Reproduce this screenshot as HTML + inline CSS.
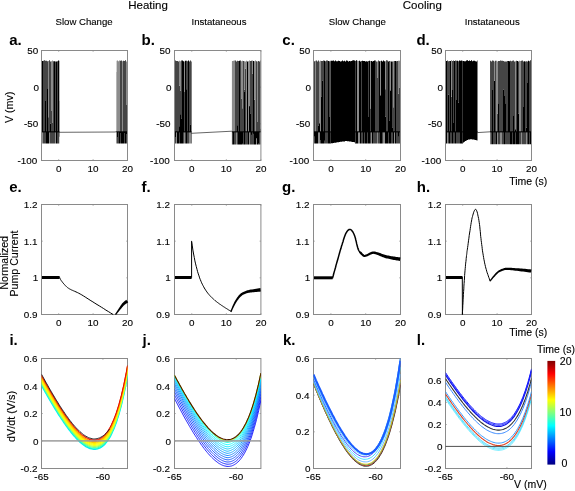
<!DOCTYPE html>
<html><head><meta charset="utf-8"><style>
html,body{margin:0;padding:0;background:#fff;width:575px;height:491px;overflow:hidden}
svg{display:block;will-change:transform}
text{font-family:"Liberation Sans",sans-serif;stroke:#000;stroke-width:0.12px}
</style></head><body>
<svg width="575" height="491" viewBox="0 0 575 491">
<rect width="575" height="491" fill="#fff"/>
<text x="148.10" y="8.80" font-size="11.5" text-anchor="middle" font-weight="normal" fill="#000" >Heating</text>
<text x="422.30" y="8.80" font-size="11.5" text-anchor="middle" font-weight="normal" fill="#000" >Cooling</text>
<text x="84.10" y="25.40" font-size="9.6" text-anchor="middle" font-weight="normal" fill="#000" >Slow Change</text>
<text x="219.00" y="25.40" font-size="9.6" text-anchor="middle" font-weight="normal" fill="#000" >Instataneous</text>
<text x="357.30" y="25.40" font-size="9.6" text-anchor="middle" font-weight="normal" fill="#000" >Slow Change</text>
<text x="492.30" y="25.40" font-size="9.6" text-anchor="middle" font-weight="normal" fill="#000" >Instataneous</text>
<text x="9.20" y="45.00" font-size="15" text-anchor="start" font-weight="bold" fill="#000"  style="stroke:none">a.</text>
<text x="141.60" y="45.00" font-size="15" text-anchor="start" font-weight="bold" fill="#000"  style="stroke:none">b.</text>
<text x="282.30" y="45.00" font-size="15" text-anchor="start" font-weight="bold" fill="#000"  style="stroke:none">c.</text>
<text x="416.40" y="45.00" font-size="15" text-anchor="start" font-weight="bold" fill="#000"  style="stroke:none">d.</text>
<text x="9.20" y="192.40" font-size="15" text-anchor="start" font-weight="bold" fill="#000"  style="stroke:none">e.</text>
<text x="141.40" y="192.40" font-size="15" text-anchor="start" font-weight="bold" fill="#000"  style="stroke:none">f.</text>
<text x="282.00" y="192.40" font-size="15" text-anchor="start" font-weight="bold" fill="#000"  style="stroke:none">g.</text>
<text x="416.80" y="192.40" font-size="15" text-anchor="start" font-weight="bold" fill="#000"  style="stroke:none">h.</text>
<text x="9.40" y="344.60" font-size="15" text-anchor="start" font-weight="bold" fill="#000"  style="stroke:none">i.</text>
<text x="142.50" y="344.60" font-size="15" text-anchor="start" font-weight="bold" fill="#000"  style="stroke:none">j.</text>
<text x="283.00" y="344.60" font-size="15" text-anchor="start" font-weight="bold" fill="#000"  style="stroke:none">k.</text>
<text x="416.80" y="344.60" font-size="15" text-anchor="start" font-weight="bold" fill="#000"  style="stroke:none">l.</text>
<rect x="41.5" y="50.5" width="86.00" height="110.0" fill="none" stroke="#8a8a8a" stroke-width="1"/>
<line x1="58.70" y1="160.5" x2="58.70" y2="159.2" stroke="#8a8a8a" stroke-width="0.7"/>
<line x1="58.70" y1="50.5" x2="58.70" y2="51.8" stroke="#8a8a8a" stroke-width="0.7"/>
<line x1="93.10" y1="160.5" x2="93.10" y2="159.2" stroke="#8a8a8a" stroke-width="0.7"/>
<line x1="93.10" y1="50.5" x2="93.10" y2="51.8" stroke="#8a8a8a" stroke-width="0.7"/>
<line x1="127.50" y1="160.5" x2="127.50" y2="159.2" stroke="#8a8a8a" stroke-width="0.7"/>
<line x1="127.50" y1="50.5" x2="127.50" y2="51.8" stroke="#8a8a8a" stroke-width="0.7"/>
<line x1="41.5" y1="50.50" x2="42.8" y2="50.50" stroke="#8a8a8a" stroke-width="0.7"/>
<line x1="127.5" y1="50.50" x2="126.2" y2="50.50" stroke="#8a8a8a" stroke-width="0.7"/>
<line x1="41.5" y1="87.17" x2="42.8" y2="87.17" stroke="#8a8a8a" stroke-width="0.7"/>
<line x1="127.5" y1="87.17" x2="126.2" y2="87.17" stroke="#8a8a8a" stroke-width="0.7"/>
<line x1="41.5" y1="123.83" x2="42.8" y2="123.83" stroke="#8a8a8a" stroke-width="0.7"/>
<line x1="127.5" y1="123.83" x2="126.2" y2="123.83" stroke="#8a8a8a" stroke-width="0.7"/>
<line x1="41.5" y1="160.50" x2="42.8" y2="160.50" stroke="#8a8a8a" stroke-width="0.7"/>
<line x1="127.5" y1="160.50" x2="126.2" y2="160.50" stroke="#8a8a8a" stroke-width="0.7"/>
<text x="58.70" y="172.30" font-size="9.9" text-anchor="middle" font-weight="normal" fill="#000" >0</text>
<text x="93.10" y="172.30" font-size="9.9" text-anchor="middle" font-weight="normal" fill="#000" >10</text>
<text x="127.50" y="172.30" font-size="9.9" text-anchor="middle" font-weight="normal" fill="#000" >20</text>
<text x="38.20" y="54.00" font-size="9.9" text-anchor="end" font-weight="normal" fill="#000" >50</text>
<text x="39.00" y="90.67" font-size="9.9" text-anchor="end" font-weight="normal" fill="#000" >0</text>
<text x="38.20" y="127.33" font-size="9.9" text-anchor="end" font-weight="normal" fill="#000" >-50</text>
<text x="37.30" y="164.00" font-size="9.9" text-anchor="end" font-weight="normal" fill="#000" >-100</text>
<rect x="174.5" y="50.5" width="86.40" height="110.0" fill="none" stroke="#8a8a8a" stroke-width="1"/>
<line x1="191.78" y1="160.5" x2="191.78" y2="159.2" stroke="#8a8a8a" stroke-width="0.7"/>
<line x1="191.78" y1="50.5" x2="191.78" y2="51.8" stroke="#8a8a8a" stroke-width="0.7"/>
<line x1="226.34" y1="160.5" x2="226.34" y2="159.2" stroke="#8a8a8a" stroke-width="0.7"/>
<line x1="226.34" y1="50.5" x2="226.34" y2="51.8" stroke="#8a8a8a" stroke-width="0.7"/>
<line x1="260.90" y1="160.5" x2="260.90" y2="159.2" stroke="#8a8a8a" stroke-width="0.7"/>
<line x1="260.90" y1="50.5" x2="260.90" y2="51.8" stroke="#8a8a8a" stroke-width="0.7"/>
<line x1="174.5" y1="50.50" x2="175.8" y2="50.50" stroke="#8a8a8a" stroke-width="0.7"/>
<line x1="260.9" y1="50.50" x2="259.59999999999997" y2="50.50" stroke="#8a8a8a" stroke-width="0.7"/>
<line x1="174.5" y1="87.17" x2="175.8" y2="87.17" stroke="#8a8a8a" stroke-width="0.7"/>
<line x1="260.9" y1="87.17" x2="259.59999999999997" y2="87.17" stroke="#8a8a8a" stroke-width="0.7"/>
<line x1="174.5" y1="123.83" x2="175.8" y2="123.83" stroke="#8a8a8a" stroke-width="0.7"/>
<line x1="260.9" y1="123.83" x2="259.59999999999997" y2="123.83" stroke="#8a8a8a" stroke-width="0.7"/>
<line x1="174.5" y1="160.50" x2="175.8" y2="160.50" stroke="#8a8a8a" stroke-width="0.7"/>
<line x1="260.9" y1="160.50" x2="259.59999999999997" y2="160.50" stroke="#8a8a8a" stroke-width="0.7"/>
<text x="191.78" y="172.30" font-size="9.9" text-anchor="middle" font-weight="normal" fill="#000" >0</text>
<text x="226.34" y="172.30" font-size="9.9" text-anchor="middle" font-weight="normal" fill="#000" >10</text>
<text x="260.90" y="172.30" font-size="9.9" text-anchor="middle" font-weight="normal" fill="#000" >20</text>
<text x="170.60" y="54.00" font-size="9.9" text-anchor="end" font-weight="normal" fill="#000" >50</text>
<text x="171.40" y="90.67" font-size="9.9" text-anchor="end" font-weight="normal" fill="#000" >0</text>
<text x="170.60" y="127.33" font-size="9.9" text-anchor="end" font-weight="normal" fill="#000" >-50</text>
<text x="169.70" y="164.00" font-size="9.9" text-anchor="end" font-weight="normal" fill="#000" >-100</text>
<rect x="313.5" y="50.5" width="87.00" height="110.0" fill="none" stroke="#8a8a8a" stroke-width="1"/>
<line x1="330.90" y1="160.5" x2="330.90" y2="159.2" stroke="#8a8a8a" stroke-width="0.7"/>
<line x1="330.90" y1="50.5" x2="330.90" y2="51.8" stroke="#8a8a8a" stroke-width="0.7"/>
<line x1="365.70" y1="160.5" x2="365.70" y2="159.2" stroke="#8a8a8a" stroke-width="0.7"/>
<line x1="365.70" y1="50.5" x2="365.70" y2="51.8" stroke="#8a8a8a" stroke-width="0.7"/>
<line x1="400.50" y1="160.5" x2="400.50" y2="159.2" stroke="#8a8a8a" stroke-width="0.7"/>
<line x1="400.50" y1="50.5" x2="400.50" y2="51.8" stroke="#8a8a8a" stroke-width="0.7"/>
<line x1="313.5" y1="50.50" x2="314.8" y2="50.50" stroke="#8a8a8a" stroke-width="0.7"/>
<line x1="400.5" y1="50.50" x2="399.2" y2="50.50" stroke="#8a8a8a" stroke-width="0.7"/>
<line x1="313.5" y1="87.17" x2="314.8" y2="87.17" stroke="#8a8a8a" stroke-width="0.7"/>
<line x1="400.5" y1="87.17" x2="399.2" y2="87.17" stroke="#8a8a8a" stroke-width="0.7"/>
<line x1="313.5" y1="123.83" x2="314.8" y2="123.83" stroke="#8a8a8a" stroke-width="0.7"/>
<line x1="400.5" y1="123.83" x2="399.2" y2="123.83" stroke="#8a8a8a" stroke-width="0.7"/>
<line x1="313.5" y1="160.50" x2="314.8" y2="160.50" stroke="#8a8a8a" stroke-width="0.7"/>
<line x1="400.5" y1="160.50" x2="399.2" y2="160.50" stroke="#8a8a8a" stroke-width="0.7"/>
<text x="330.90" y="172.30" font-size="9.9" text-anchor="middle" font-weight="normal" fill="#000" >0</text>
<text x="365.70" y="172.30" font-size="9.9" text-anchor="middle" font-weight="normal" fill="#000" >10</text>
<text x="400.50" y="172.30" font-size="9.9" text-anchor="middle" font-weight="normal" fill="#000" >20</text>
<text x="310.20" y="54.00" font-size="9.9" text-anchor="end" font-weight="normal" fill="#000" >50</text>
<text x="311.00" y="90.67" font-size="9.9" text-anchor="end" font-weight="normal" fill="#000" >0</text>
<text x="310.20" y="127.33" font-size="9.9" text-anchor="end" font-weight="normal" fill="#000" >-50</text>
<text x="309.30" y="164.00" font-size="9.9" text-anchor="end" font-weight="normal" fill="#000" >-100</text>
<rect x="445.5" y="50.5" width="86.00" height="110.0" fill="none" stroke="#8a8a8a" stroke-width="1"/>
<line x1="462.70" y1="160.5" x2="462.70" y2="159.2" stroke="#8a8a8a" stroke-width="0.7"/>
<line x1="462.70" y1="50.5" x2="462.70" y2="51.8" stroke="#8a8a8a" stroke-width="0.7"/>
<line x1="497.10" y1="160.5" x2="497.10" y2="159.2" stroke="#8a8a8a" stroke-width="0.7"/>
<line x1="497.10" y1="50.5" x2="497.10" y2="51.8" stroke="#8a8a8a" stroke-width="0.7"/>
<line x1="531.50" y1="160.5" x2="531.50" y2="159.2" stroke="#8a8a8a" stroke-width="0.7"/>
<line x1="531.50" y1="50.5" x2="531.50" y2="51.8" stroke="#8a8a8a" stroke-width="0.7"/>
<line x1="445.5" y1="50.50" x2="446.8" y2="50.50" stroke="#8a8a8a" stroke-width="0.7"/>
<line x1="531.5" y1="50.50" x2="530.2" y2="50.50" stroke="#8a8a8a" stroke-width="0.7"/>
<line x1="445.5" y1="87.17" x2="446.8" y2="87.17" stroke="#8a8a8a" stroke-width="0.7"/>
<line x1="531.5" y1="87.17" x2="530.2" y2="87.17" stroke="#8a8a8a" stroke-width="0.7"/>
<line x1="445.5" y1="123.83" x2="446.8" y2="123.83" stroke="#8a8a8a" stroke-width="0.7"/>
<line x1="531.5" y1="123.83" x2="530.2" y2="123.83" stroke="#8a8a8a" stroke-width="0.7"/>
<line x1="445.5" y1="160.50" x2="446.8" y2="160.50" stroke="#8a8a8a" stroke-width="0.7"/>
<line x1="531.5" y1="160.50" x2="530.2" y2="160.50" stroke="#8a8a8a" stroke-width="0.7"/>
<text x="462.70" y="172.30" font-size="9.9" text-anchor="middle" font-weight="normal" fill="#000" >0</text>
<text x="497.10" y="172.30" font-size="9.9" text-anchor="middle" font-weight="normal" fill="#000" >10</text>
<text x="531.50" y="172.30" font-size="9.9" text-anchor="middle" font-weight="normal" fill="#000" >20</text>
<text x="442.20" y="54.00" font-size="9.9" text-anchor="end" font-weight="normal" fill="#000" >50</text>
<text x="443.00" y="90.67" font-size="9.9" text-anchor="end" font-weight="normal" fill="#000" >0</text>
<text x="442.20" y="127.33" font-size="9.9" text-anchor="end" font-weight="normal" fill="#000" >-50</text>
<text x="441.30" y="164.00" font-size="9.9" text-anchor="end" font-weight="normal" fill="#000" >-100</text>
<path d="M42.00,60.97H43.00V131.90H42.00ZM45.00,100.92H46.00V131.90H45.00ZM45.00,131.90H46.00V140.60H45.00ZM46.00,131.90H47.00V143.50H46.00ZM47.00,88.34H48.00V131.90H47.00ZM47.00,131.90H48.00V143.50H47.00ZM48.00,131.90H49.00V143.50H48.00ZM50.00,123.59H51.00V131.90H50.00ZM52.00,131.90H53.00V131.98H52.00ZM53.00,131.90H54.00V139.32H53.00ZM54.00,61.35H55.00V131.90H54.00ZM56.00,61.49H57.00V131.90H56.00ZM56.00,131.90H57.00V143.50H56.00ZM58.00,60.38H59.00V131.90H58.00ZM59.00,100.57H59.40V131.90H59.00ZM59.00,131.90H59.40V136.79H59.00Z" fill="#000"/>
<path d="M42.00,131.90H43.00V143.50H42.00ZM48.00,60.97H49.00V117.18H48.00ZM49.00,131.90H50.00V143.50H49.00ZM51.00,61.28H52.00V111.03H51.00ZM52.00,60.55H53.00V122.76H52.00ZM55.00,131.90H56.00V143.50H55.00ZM59.00,131.90H59.40V143.50H59.00Z" fill="#8c8c8c"/>
<path d="M43.00,60.71H44.00V131.90H43.00ZM43.00,131.90H44.00V143.50H43.00ZM44.00,60.34H45.00V131.90H44.00ZM44.00,131.90H45.00V143.50H44.00ZM45.00,60.69H46.00V100.92H45.00ZM45.00,131.90H46.00V143.50H45.00ZM46.00,60.66H47.00V131.90H46.00ZM47.00,61.24H48.00V88.34H47.00ZM48.00,117.18H49.00V131.90H48.00ZM49.00,60.35H50.00V131.90H49.00ZM50.00,61.41H51.00V123.59H50.00ZM50.00,131.90H51.00V143.50H50.00ZM51.00,111.03H52.00V131.90H51.00ZM51.00,131.90H52.00V143.50H51.00ZM52.00,122.76H53.00V131.90H52.00ZM52.00,131.90H53.00V143.50H52.00ZM53.00,61.14H54.00V131.90H53.00ZM53.00,131.90H54.00V143.50H53.00ZM54.00,131.90H55.00V143.50H54.00ZM55.00,61.46H56.00V131.90H55.00ZM57.00,61.16H58.00V131.90H57.00ZM57.00,131.90H58.00V143.50H57.00ZM58.00,131.90H59.00V143.50H58.00ZM59.00,60.71H59.40V100.57H59.00Z" fill="#454545"/>
<rect x="42.00" y="131.30" width="17.40" height="1.1" fill="#000"/>
<path d="M59.4,132.3 L115.0,132.0 L117.0,131.5" fill="none" stroke="#333" stroke-width="0.75" stroke-linejoin="round" stroke-linecap="round" />
<path d="M116.60,60.64H117.00V72.06H116.60ZM117.00,60.54H118.00V131.90H117.00ZM118.00,61.17H119.00V131.90H118.00ZM119.00,60.54H120.00V131.90H119.00ZM122.00,61.14H123.00V131.90H122.00ZM126.00,61.39H127.00V105.02H126.00Z" fill="#8c8c8c"/>
<path d="M116.60,72.06H117.00V131.90H116.60ZM117.00,131.90H118.00V143.50H117.00ZM118.00,131.90H119.00V143.50H118.00ZM120.00,60.71H121.00V131.90H120.00ZM120.00,131.90H121.00V143.50H120.00ZM121.00,60.56H122.00V131.90H121.00ZM123.00,60.87H124.00V131.90H123.00ZM124.00,60.95H125.00V131.90H124.00ZM124.00,131.90H125.00V143.50H124.00ZM125.00,60.35H126.00V131.90H125.00ZM126.00,105.02H127.00V131.90H126.00ZM126.00,131.90H127.00V143.50H126.00Z" fill="#454545"/>
<path d="M116.60,131.90H117.00V143.50H116.60ZM117.00,131.90H118.00V136.92H117.00ZM119.00,131.90H120.00V143.50H119.00ZM120.00,131.90H121.00V133.11H120.00ZM121.00,131.90H122.00V143.50H121.00ZM122.00,131.90H123.00V143.50H122.00ZM123.00,131.90H124.00V143.50H123.00ZM124.00,131.90H125.00V133.07H124.00ZM125.00,131.90H126.00V143.50H125.00ZM126.00,131.90H127.00V133.89H126.00Z" fill="#000"/>
<rect x="116.60" y="131.30" width="10.40" height="1.1" fill="#000"/>
<path d="M175.00,60.41H176.00V131.90H175.00ZM175.00,131.90H176.00V143.50H175.00ZM176.00,60.92H177.00V131.90H176.00ZM177.00,60.97H178.00V131.90H177.00ZM178.00,61.54H179.00V131.90H178.00ZM179.00,85.66H180.00V126.28H179.00ZM179.00,131.90H180.00V143.50H179.00ZM180.00,90.66H181.00V114.28H180.00ZM181.00,60.57H182.00V118.50H181.00ZM183.00,131.90H184.00V143.50H183.00ZM184.00,91.96H185.00V131.90H184.00ZM185.00,131.90H186.00V143.50H185.00ZM186.00,60.82H187.00V89.36H186.00ZM187.00,61.28H188.00V131.90H187.00ZM187.00,131.90H188.00V143.50H187.00ZM188.00,131.90H189.00V143.50H188.00ZM189.00,61.56H190.00V131.90H189.00ZM190.00,60.41H191.00V124.56H190.00Z" fill="#454545"/>
<path d="M175.00,131.90H176.00V136.92H175.00ZM177.00,131.90H178.00V143.50H177.00ZM178.00,131.90H179.00V143.50H178.00ZM179.00,126.28H180.00V131.90H179.00ZM180.00,114.28H181.00V131.90H180.00ZM180.00,131.90H181.00V143.50H180.00ZM181.00,118.50H182.00V131.90H181.00ZM181.00,131.90H182.00V143.50H181.00ZM182.00,60.58H183.00V131.90H182.00ZM182.00,131.90H183.00V143.50H182.00ZM183.00,61.19H184.00V131.90H183.00ZM185.00,60.68H186.00V131.90H185.00ZM186.00,89.36H187.00V131.90H186.00ZM186.00,131.90H187.00V143.50H186.00ZM188.00,60.52H189.00V131.90H188.00ZM190.00,124.56H191.00V131.90H190.00ZM190.00,131.90H191.00V137.62H190.00ZM191.00,61.40H191.50V131.90H191.00ZM191.00,131.90H191.50V143.50H191.00Z" fill="#000"/>
<path d="M176.00,131.90H177.00V143.50H176.00ZM179.00,60.68H180.00V85.66H179.00ZM180.00,61.31H181.00V90.66H180.00ZM184.00,61.44H185.00V91.96H184.00ZM184.00,131.90H185.00V143.50H184.00ZM189.00,131.90H190.00V143.50H189.00ZM190.00,131.90H191.00V143.50H190.00Z" fill="#8c8c8c"/>
<rect x="175.00" y="131.30" width="16.50" height="1.1" fill="#000"/>
<path d="M191.5,133.3 L232.0,131.2" fill="none" stroke="#333" stroke-width="0.75" stroke-linejoin="round" stroke-linecap="round" />
<path d="M231.90,61.54H232.00V131.90H231.90ZM232.00,60.96H233.00V131.90H232.00ZM233.00,60.74H234.00V131.90H233.00ZM234.00,60.38H235.00V131.90H234.00Z" fill="#8c8c8c"/>
<path d="M231.90,131.90H232.00V144.50H231.90ZM232.00,131.90H233.00V144.50H232.00ZM234.00,131.90H235.00V144.50H234.00ZM235.00,60.53H236.00V131.90H235.00ZM235.00,131.90H236.00V144.50H235.00Z" fill="#454545"/>
<path d="M233.00,131.90H234.00V144.50H233.00Z" fill="#000"/>
<rect x="231.90" y="131.30" width="4.10" height="1.1" fill="#000"/>
<path d="M236.00,61.53H237.00V131.90H236.00ZM237.00,60.79H238.00V125.24H237.00ZM237.00,131.90H238.00V144.50H237.00ZM238.00,60.92H239.00V131.90H238.00ZM240.00,60.53H241.00V131.90H240.00ZM241.00,98.53H242.00V131.90H241.00ZM242.00,108.25H243.00V131.90H242.00ZM242.00,131.90H243.00V144.50H242.00ZM243.00,60.94H244.00V131.90H243.00ZM243.00,131.90H244.00V144.50H243.00ZM244.00,89.84H245.00V91.49H244.00ZM245.00,68.77H246.00V131.90H245.00ZM245.00,131.90H246.00V144.50H245.00ZM246.00,131.90H247.00V144.50H246.00ZM247.00,131.90H248.00V144.50H247.00ZM250.00,60.98H251.00V113.47H250.00ZM250.00,131.90H251.00V144.50H250.00ZM251.00,60.74H252.00V131.90H251.00ZM251.00,131.90H252.00V144.50H251.00ZM252.00,73.40H253.00V131.90H252.00ZM252.00,131.90H253.00V144.50H252.00ZM253.00,131.90H254.00V144.50H253.00ZM254.00,99.65H255.00V131.90H254.00ZM256.00,61.36H257.00V131.90H256.00ZM257.00,121.92H258.00V131.90H257.00ZM258.00,61.07H259.00V131.90H258.00ZM258.00,131.90H259.00V144.50H258.00ZM259.00,61.56H260.00V131.90H259.00ZM259.00,131.90H260.00V144.50H259.00ZM260.00,60.38H260.40V128.78H260.00ZM260.00,131.90H260.40V144.50H260.00Z" fill="#454545"/>
<path d="M236.00,131.90H237.00V144.50H236.00ZM241.00,61.17H242.00V98.53H241.00ZM242.00,60.75H243.00V108.25H242.00ZM244.00,61.30H245.00V89.84H244.00ZM245.00,61.45H246.00V68.77H245.00ZM246.00,60.66H247.00V131.90H246.00ZM248.00,61.35H249.00V131.90H248.00ZM249.00,60.60H250.00V106.98H249.00ZM249.00,131.90H250.00V144.50H249.00ZM252.00,60.39H253.00V73.40H252.00ZM254.00,61.20H255.00V99.65H254.00ZM255.00,60.54H256.00V131.90H255.00ZM256.00,131.90H257.00V144.50H256.00ZM257.00,61.47H258.00V121.92H257.00Z" fill="#8c8c8c"/>
<path d="M237.00,125.24H238.00V131.90H237.00ZM238.00,131.90H239.00V144.50H238.00ZM239.00,60.78H240.00V131.90H239.00ZM239.00,131.90H240.00V144.50H239.00ZM240.00,131.90H241.00V144.50H240.00ZM241.00,131.90H242.00V144.50H241.00ZM242.00,131.90H243.00V143.62H242.00ZM244.00,91.49H245.00V131.90H244.00ZM244.00,131.90H245.00V144.50H244.00ZM247.00,61.54H248.00V131.90H247.00ZM248.00,131.90H249.00V144.50H248.00ZM249.00,106.26H250.00V131.90H249.00ZM250.00,113.47H251.00V131.90H250.00ZM251.00,131.90H252.00V134.74H251.00ZM253.00,61.08H254.00V131.90H253.00ZM253.00,131.90H254.00V133.75H253.00ZM254.00,131.90H255.00V144.50H254.00ZM255.00,131.90H256.00V144.50H255.00ZM256.00,131.90H257.00V138.22H256.00ZM257.00,131.90H258.00V144.50H257.00ZM258.00,131.90H259.00V143.20H258.00ZM260.00,128.78H260.40V131.90H260.00Z" fill="#000"/>
<rect x="236.00" y="131.30" width="24.40" height="1.1" fill="#000"/>
<path d="M314.00,61.35H315.00V131.90H314.00ZM314.00,131.90H315.00V143.50H314.00ZM316.00,60.60H317.00V131.90H316.00ZM317.00,61.40H318.00V131.90H317.00ZM318.00,60.38H319.00V125.65H318.00ZM320.00,131.90H321.00V143.50H320.00ZM321.00,60.88H322.00V96.60H321.00ZM322.00,60.96H323.00V80.75H322.00ZM323.00,60.41H324.00V131.90H323.00ZM324.00,131.90H325.00V143.50H324.00ZM325.00,61.18H326.00V131.90H325.00ZM325.00,131.90H326.00V143.50H325.00ZM326.00,60.44H327.00V131.90H326.00ZM326.00,131.90H327.00V143.50H326.00ZM327.00,60.55H328.00V131.90H327.00ZM327.00,131.90H328.00V143.50H327.00ZM329.00,61.24H330.00V117.00H329.00ZM330.00,60.82H330.70V131.90H330.00Z" fill="#454545"/>
<path d="M314.00,131.90H315.00V136.35H314.00ZM315.00,131.90H316.00V143.50H315.00ZM316.00,131.90H317.00V143.50H316.00ZM317.00,131.90H318.00V143.50H317.00ZM318.00,125.65H319.00V131.90H318.00ZM319.00,116.72H320.00V131.90H319.00ZM320.00,131.90H321.00V140.00H320.00ZM321.00,96.60H322.00V131.90H321.00ZM321.00,131.90H322.00V143.50H321.00ZM322.00,80.75H323.00V131.90H322.00ZM322.00,131.90H323.00V143.50H322.00ZM323.00,131.90H324.00V143.50H323.00ZM324.00,60.82H325.00V131.90H324.00ZM324.00,131.90H325.00V140.50H324.00ZM328.00,61.10H329.00V131.90H328.00ZM328.00,131.90H329.00V143.50H328.00ZM329.00,117.00H330.00V131.90H329.00ZM329.00,131.90H330.00V143.50H329.00ZM330.00,131.90H330.70V143.50H330.00Z" fill="#000"/>
<path d="M315.00,60.83H316.00V131.90H315.00ZM318.00,131.90H319.00V143.50H318.00ZM319.00,61.43H320.00V123.48H319.00ZM319.00,131.90H320.00V143.50H319.00ZM320.00,60.87H321.00V131.90H320.00Z" fill="#8c8c8c"/>
<rect x="314.00" y="131.30" width="16.70" height="1.1" fill="#000"/>
<path d="M330.70,61.53H331.00V131.90H330.70ZM330.70,131.90H331.00V143.50H330.70ZM331.00,60.70H332.00V131.90H331.00ZM331.00,131.90H332.00V143.35H331.00ZM332.00,60.63H333.00V131.90H332.00ZM332.00,131.90H333.00V143.17H332.00ZM333.00,60.59H334.00V131.90H333.00ZM333.00,131.90H334.00V142.99H333.00ZM334.00,61.32H335.00V131.90H334.00ZM334.00,131.90H335.00V142.81H334.00ZM335.00,60.58H336.00V131.90H335.00ZM335.00,131.90H336.00V142.64H335.00ZM336.00,61.35H337.00V131.90H336.00ZM336.00,131.90H337.00V142.47H336.00ZM337.00,61.25H338.00V131.90H337.00ZM337.00,131.90H338.00V142.31H337.00ZM338.00,60.85H339.00V131.90H338.00ZM338.00,131.90H339.00V142.15H338.00ZM339.00,60.94H340.00V131.90H339.00ZM339.00,131.90H340.00V142.00H339.00ZM340.00,61.48H341.00V131.90H340.00ZM340.00,131.90H341.00V141.86H340.00ZM341.00,61.33H342.00V131.90H341.00ZM341.00,131.90H342.00V141.72H341.00ZM342.00,60.50H343.00V131.90H342.00ZM342.00,131.90H343.00V141.60H342.00ZM343.00,61.27H344.00V131.90H343.00ZM343.00,131.90H344.00V141.49H343.00ZM344.00,60.82H345.00V131.90H344.00ZM344.00,131.90H345.00V141.38H344.00ZM345.00,61.59H346.00V131.90H345.00ZM345.00,131.90H346.00V141.04H345.00ZM346.00,60.58H347.00V131.90H346.00ZM346.00,131.90H347.00V141.11H346.00ZM347.00,60.83H348.00V131.90H347.00ZM347.00,131.90H348.00V141.20H347.00ZM348.00,61.53H349.00V131.90H348.00ZM348.00,131.90H349.00V141.31H348.00ZM349.00,61.05H350.00V131.90H349.00ZM349.00,131.90H350.00V141.43H349.00ZM350.00,61.26H351.00V131.90H350.00ZM350.00,131.90H351.00V141.57H350.00ZM351.00,61.09H352.00V131.90H351.00ZM351.00,131.90H352.00V141.72H351.00ZM352.00,60.60H353.00V131.90H352.00ZM352.00,131.90H353.00V141.88H352.00ZM353.00,60.37H354.00V131.90H353.00ZM353.00,131.90H354.00V142.05H353.00ZM354.00,60.42H355.00V131.90H354.00ZM354.00,131.90H355.00V142.23H354.00ZM355.00,60.77H355.40V131.90H355.00ZM355.00,131.90H355.40V143.50H355.00Z" fill="#000"/>
<rect x="330.70" y="131.30" width="24.70" height="1.1" fill="#000"/>
<path d="M355.40,61.10H356.00V131.90H355.40ZM355.40,131.90H356.00V143.50H355.40ZM356.00,60.31H357.00V131.90H356.00ZM356.00,131.90H357.00V143.50H356.00ZM357.00,131.90H358.00V143.50H357.00ZM359.00,60.83H360.00V131.90H359.00ZM360.00,61.42H361.00V131.90H360.00ZM360.00,131.90H361.00V143.50H360.00ZM362.00,60.66H363.00V131.90H362.00ZM363.00,60.92H364.00V131.90H363.00ZM363.00,131.90H364.00V143.50H363.00ZM364.00,61.04H365.00V131.90H364.00ZM364.00,131.90H365.00V134.98H364.00ZM365.00,61.55H366.00V131.90H365.00ZM365.00,131.90H366.00V143.50H365.00ZM366.00,61.14H367.00V131.90H366.00ZM366.00,131.90H367.00V143.50H366.00ZM367.00,61.58H368.00V131.90H367.00ZM368.00,116.98H369.00V131.90H368.00ZM368.00,131.90H369.00V143.50H368.00ZM369.00,60.63H370.00V131.90H369.00ZM369.00,131.90H370.00V143.50H369.00ZM371.00,61.03H372.00V131.90H371.00ZM371.00,131.90H372.00V135.13H371.00ZM372.00,61.51H373.00V131.90H372.00ZM372.00,131.90H373.00V143.50H372.00ZM373.00,61.12H374.00V131.90H373.00ZM373.00,131.90H374.00V139.69H373.00ZM374.00,60.51H375.00V131.90H374.00ZM376.00,131.90H377.00V134.66H376.00ZM377.00,131.90H378.00V132.31H377.00ZM378.00,131.90H379.00V141.53H378.00ZM379.00,61.30H380.00V131.90H379.00ZM379.00,131.90H380.00V141.35H379.00ZM380.00,95.27H381.00V131.90H380.00ZM380.00,131.90H381.00V143.50H380.00ZM381.00,60.70H382.00V131.90H381.00ZM381.00,131.90H382.00V143.50H381.00ZM382.00,61.56H383.00V131.90H382.00ZM383.00,60.52H384.00V131.90H383.00ZM384.00,61.37H385.00V131.90H384.00ZM384.00,131.90H385.00V132.60H384.00ZM385.00,116.47H386.00V131.90H385.00ZM385.00,131.90H386.00V143.50H385.00Z" fill="#000"/>
<path d="M357.00,60.82H358.00V131.90H357.00ZM358.00,60.92H359.00V131.90H358.00ZM358.00,131.90H359.00V143.50H358.00ZM359.00,131.90H360.00V143.50H359.00ZM370.00,61.06H371.00V108.56H370.00ZM371.00,131.90H372.00V143.50H371.00ZM377.00,61.49H378.00V77.82H377.00ZM377.00,131.90H378.00V143.50H377.00ZM380.00,61.12H381.00V95.27H380.00ZM383.00,131.90H384.00V143.50H383.00ZM384.00,131.90H385.00V143.50H384.00ZM385.00,61.36H386.00V89.32H385.00Z" fill="#8c8c8c"/>
<path d="M361.00,61.01H362.00V131.90H361.00ZM361.00,131.90H362.00V143.50H361.00ZM362.00,131.90H363.00V143.50H362.00ZM364.00,131.90H365.00V143.50H364.00ZM367.00,131.90H368.00V143.50H367.00ZM368.00,60.96H369.00V116.98H368.00ZM370.00,108.56H371.00V131.90H370.00ZM370.00,131.90H371.00V143.50H370.00ZM373.00,131.90H374.00V143.50H373.00ZM374.00,131.90H375.00V143.50H374.00ZM375.00,60.59H376.00V131.90H375.00ZM375.00,131.90H376.00V143.50H375.00ZM376.00,61.50H377.00V131.90H376.00ZM376.00,131.90H377.00V143.50H376.00ZM377.00,77.82H378.00V131.90H377.00ZM378.00,60.47H379.00V131.90H378.00ZM378.00,131.90H379.00V143.50H378.00ZM379.00,131.90H380.00V143.50H379.00ZM382.00,131.90H383.00V143.50H382.00ZM385.00,89.32H386.00V116.47H385.00Z" fill="#454545"/>
<rect x="355.40" y="131.30" width="30.60" height="1.1" fill="#000"/>
<path d="M386.00,60.31H387.00V131.90H386.00ZM387.00,60.44H388.00V131.90H387.00ZM388.00,131.90H389.00V143.50H388.00ZM389.00,61.08H390.00V120.51H389.00ZM391.00,131.90H392.00V143.50H391.00ZM392.00,61.59H393.00V127.39H392.00ZM392.00,131.90H393.00V143.50H392.00ZM393.00,107.32H394.00V131.90H393.00ZM394.00,61.09H395.00V131.90H394.00ZM396.00,61.15H397.00V131.90H396.00ZM396.00,131.90H397.00V143.50H396.00ZM397.00,60.97H398.00V131.90H397.00ZM397.00,131.90H398.00V143.50H397.00ZM398.00,93.67H399.00V131.90H398.00ZM398.00,131.90H399.00V143.50H398.00ZM399.00,87.69H400.00V131.90H399.00ZM399.00,131.90H400.00V143.50H399.00Z" fill="#454545"/>
<path d="M386.00,131.90H387.00V143.50H386.00ZM387.00,131.90H388.00V143.50H387.00ZM388.00,61.60H389.00V131.90H388.00ZM389.00,120.51H390.00V131.90H389.00ZM389.00,131.90H390.00V143.50H389.00ZM390.00,81.06H391.00V131.90H390.00ZM390.00,131.90H391.00V143.50H390.00ZM391.00,61.46H392.00V131.90H391.00ZM392.00,127.39H393.00V131.90H392.00ZM393.00,131.90H394.00V143.50H393.00ZM394.00,131.90H395.00V142.32H394.00ZM395.00,60.98H396.00V131.90H395.00ZM395.00,131.90H396.00V143.50H395.00ZM398.00,131.90H399.00V136.24H398.00Z" fill="#000"/>
<path d="M390.00,61.22H391.00V90.64H390.00ZM393.00,61.26H394.00V107.32H393.00ZM394.00,131.90H395.00V143.50H394.00ZM398.00,60.86H399.00V93.67H398.00ZM399.00,60.69H400.00V87.69H399.00Z" fill="#8c8c8c"/>
<rect x="386.00" y="131.30" width="14.00" height="1.1" fill="#000"/>
<path d="M446.00,61.11H447.00V131.90H446.00ZM446.00,131.90H447.00V143.50H446.00ZM448.00,94.45H449.00V131.90H448.00ZM449.00,131.90H450.00V143.50H449.00ZM450.00,61.11H451.00V131.90H450.00ZM450.00,131.90H451.00V139.01H450.00ZM452.00,89.99H453.00V131.90H452.00ZM452.00,131.90H453.00V143.50H452.00ZM453.00,123.08H454.00V131.90H453.00ZM453.00,131.90H454.00V142.11H453.00ZM454.00,60.96H455.00V131.90H454.00ZM455.00,131.90H456.00V143.50H455.00ZM456.00,100.12H457.00V131.90H456.00ZM456.00,131.90H457.00V141.37H456.00ZM457.00,60.79H458.00V131.90H457.00ZM458.00,102.85H459.00V131.90H458.00ZM459.00,60.43H460.00V131.90H459.00ZM460.00,60.69H461.00V131.90H460.00ZM460.00,131.90H461.00V143.50H460.00ZM461.00,60.47H462.00V131.90H461.00ZM461.00,131.90H462.00V143.50H461.00ZM462.00,89.99H462.30V131.90H462.00ZM462.00,131.90H462.30V143.50H462.00Z" fill="#000"/>
<path d="M447.00,60.59H448.00V131.90H447.00ZM448.00,61.34H449.00V94.45H448.00ZM448.00,131.90H449.00V143.50H448.00ZM449.00,60.96H450.00V131.90H449.00ZM450.00,131.90H451.00V143.50H450.00ZM451.00,96.72H452.00V131.90H451.00ZM451.00,131.90H452.00V143.50H451.00ZM452.00,60.95H453.00V89.99H452.00ZM453.00,60.56H454.00V123.08H453.00ZM453.00,131.90H454.00V143.50H453.00ZM454.00,131.90H455.00V143.50H454.00ZM455.00,60.42H456.00V131.90H455.00ZM456.00,60.77H457.00V100.12H456.00ZM456.00,131.90H457.00V143.50H456.00ZM457.00,131.90H458.00V143.50H457.00ZM458.00,61.13H459.00V102.85H458.00ZM458.00,131.90H459.00V143.50H458.00ZM459.00,131.90H460.00V143.50H459.00ZM462.00,61.48H462.30V89.99H462.00Z" fill="#454545"/>
<path d="M447.00,131.90H448.00V143.50H447.00ZM451.00,60.36H452.00V96.72H451.00Z" fill="#8c8c8c"/>
<rect x="446.00" y="131.30" width="16.30" height="1.1" fill="#000"/>
<path d="M462.30,60.63H463.00V131.90H462.30ZM462.30,131.90H463.00V143.50H462.30ZM463.00,60.99H464.00V131.90H463.00ZM463.00,131.90H464.00V142.53H463.00ZM464.00,61.29H465.00V131.90H464.00ZM464.00,131.90H465.00V141.68H464.00ZM465.00,61.13H466.00V131.90H465.00ZM465.00,131.90H466.00V140.97H465.00ZM466.00,60.57H467.00V131.90H466.00ZM466.00,131.90H467.00V140.38H466.00ZM467.00,60.36H468.00V131.90H467.00ZM467.00,131.90H468.00V139.92H467.00ZM468.00,60.98H469.00V131.90H468.00ZM468.00,131.90H469.00V139.58H468.00ZM469.00,60.56H470.00V131.90H469.00ZM469.00,131.90H470.00V139.38H469.00ZM470.00,61.07H471.00V131.90H470.00ZM470.00,131.90H471.00V139.30H470.00ZM471.00,60.35H472.00V131.90H471.00ZM471.00,131.90H472.00V139.32H471.00ZM472.00,61.35H473.00V131.90H472.00ZM472.00,131.90H473.00V139.40H472.00ZM473.00,60.79H474.00V131.90H473.00ZM473.00,131.90H474.00V139.52H473.00ZM474.00,60.71H475.00V131.90H474.00ZM474.00,131.90H475.00V139.70H474.00ZM475.00,61.16H476.00V131.90H475.00ZM475.00,131.90H476.00V139.94H475.00ZM476.00,61.48H477.00V131.90H476.00ZM476.00,131.90H477.00V140.22H476.00ZM477.00,60.57H477.50V131.90H477.00ZM477.00,131.90H477.50V140.56H477.00Z" fill="#000"/>
<rect x="462.30" y="131.30" width="15.20" height="1.1" fill="#000"/>
<path d="M477.5,132.6 L490.3,131.8" fill="none" stroke="#333" stroke-width="0.75" stroke-linejoin="round" stroke-linecap="round" />
<path d="M490.30,60.73H491.00V131.90H490.30ZM491.00,131.90H492.00V137.84H491.00ZM492.00,90.06H493.00V131.90H492.00ZM492.00,131.90H493.00V144.30H492.00ZM494.00,80.87H495.00V131.90H494.00ZM495.00,131.90H496.00V133.56H495.00ZM496.00,131.90H497.00V144.30H496.00ZM498.00,103.35H499.00V131.90H498.00ZM500.00,131.90H501.00V132.70H500.00ZM503.00,89.56H504.00V131.90H503.00ZM503.00,131.90H504.00V137.82H503.00ZM504.00,95.91H505.00V131.90H504.00ZM504.00,131.90H505.00V144.30H504.00ZM505.00,103.32H506.00V131.90H505.00ZM507.00,131.90H508.00V142.22H507.00ZM508.00,60.91H509.00V131.90H508.00ZM508.00,131.90H509.00V138.28H508.00ZM509.00,61.23H510.00V131.90H509.00ZM509.00,131.90H510.00V138.83H509.00ZM510.00,131.90H511.00V144.30H510.00ZM511.00,131.90H512.00V144.30H511.00ZM512.00,131.90H513.00V132.17H512.00ZM513.00,115.22H514.00V131.90H513.00ZM513.00,131.90H514.00V144.30H513.00ZM514.00,131.90H515.00V144.30H514.00ZM515.00,129.24H516.00V131.90H515.00ZM516.00,131.90H517.00V144.30H516.00ZM517.00,60.97H518.00V131.90H517.00ZM517.00,131.90H518.00V144.30H517.00ZM518.00,113.58H519.00V131.90H518.00ZM518.00,131.90H519.00V144.30H518.00ZM520.00,131.90H521.00V143.14H520.00ZM521.00,131.90H522.00V141.48H521.00ZM523.00,106.98H524.00V131.90H523.00ZM523.00,131.90H524.00V137.27H523.00ZM524.00,61.34H525.00V131.90H524.00ZM526.00,127.45H527.00V131.90H526.00ZM526.00,131.90H527.00V132.11H526.00ZM527.00,83.02H528.00V131.90H527.00ZM528.00,60.76H529.00V131.90H528.00ZM528.00,131.90H529.00V144.30H528.00ZM530.00,131.90H531.00V144.30H530.00Z" fill="#000"/>
<path d="M490.30,131.90H491.00V144.30H490.30ZM491.00,61.43H492.00V131.90H491.00ZM491.00,131.90H492.00V144.30H491.00ZM492.00,60.61H493.00V90.06H492.00ZM493.00,60.85H494.00V131.90H493.00ZM493.00,131.90H494.00V144.30H493.00ZM494.00,131.90H495.00V144.30H494.00ZM495.00,60.81H496.00V131.90H495.00ZM495.00,131.90H496.00V144.30H495.00ZM497.00,113.45H498.00V131.90H497.00ZM498.00,60.95H499.00V103.35H498.00ZM498.00,131.90H499.00V144.30H498.00ZM499.00,60.96H500.00V131.90H499.00ZM499.00,131.90H500.00V144.30H499.00ZM500.00,60.42H501.00V131.90H500.00ZM501.00,60.78H502.00V131.90H501.00ZM502.00,60.71H503.00V131.90H502.00ZM502.00,131.90H503.00V144.30H502.00ZM503.00,60.99H504.00V89.56H503.00ZM503.00,131.90H504.00V144.30H503.00ZM504.00,61.56H505.00V95.91H504.00ZM505.00,61.57H506.00V103.32H505.00ZM505.00,131.90H506.00V144.30H505.00ZM506.00,61.46H507.00V131.90H506.00ZM506.00,131.90H507.00V144.30H506.00ZM507.00,61.12H508.00V131.90H507.00ZM507.00,131.90H508.00V144.30H507.00ZM508.00,131.90H509.00V144.30H508.00ZM509.00,131.90H510.00V144.30H509.00ZM510.00,60.80H511.00V131.90H510.00ZM511.00,61.35H512.00V131.90H511.00ZM512.00,60.63H513.00V131.90H512.00ZM512.00,131.90H513.00V144.30H512.00ZM513.00,60.40H514.00V115.22H513.00ZM514.00,61.52H515.00V131.90H514.00ZM515.00,131.90H516.00V144.30H515.00ZM516.00,60.77H517.00V131.90H516.00ZM518.00,61.57H519.00V113.58H518.00ZM519.00,131.90H520.00V144.30H519.00ZM520.00,131.90H521.00V144.30H520.00ZM521.00,60.65H522.00V131.90H521.00ZM522.00,60.48H523.00V131.90H522.00ZM522.00,131.90H523.00V144.30H522.00ZM523.00,61.45H524.00V106.98H523.00ZM523.00,131.90H524.00V144.30H523.00ZM524.00,131.90H525.00V144.30H524.00ZM525.00,61.44H526.00V131.90H525.00ZM525.00,131.90H526.00V144.30H525.00ZM526.00,61.22H527.00V127.45H526.00ZM527.00,61.39H528.00V83.02H527.00ZM527.00,131.90H528.00V144.30H527.00ZM529.00,61.15H530.00V131.90H529.00ZM529.00,131.90H530.00V144.30H529.00ZM530.00,60.35H531.00V131.90H530.00Z" fill="#454545"/>
<path d="M494.00,61.48H495.00V80.87H494.00ZM496.00,60.73H497.00V131.90H496.00ZM497.00,61.43H498.00V113.45H497.00ZM497.00,131.90H498.00V144.30H497.00ZM500.00,131.90H501.00V144.30H500.00ZM501.00,131.90H502.00V144.30H501.00ZM515.00,61.29H516.00V129.24H515.00ZM519.00,60.85H520.00V131.90H519.00ZM520.00,60.97H521.00V131.90H520.00ZM521.00,131.90H522.00V144.30H521.00ZM526.00,131.90H527.00V144.30H526.00Z" fill="#8c8c8c"/>
<rect x="490.30" y="131.30" width="40.70" height="1.1" fill="#000"/>
<text x="528.30" y="185.40" font-size="10.5" text-anchor="middle" font-weight="normal" fill="#000" >Time (s)</text>
<text x="528.30" y="335.70" font-size="10.5" text-anchor="middle" font-weight="normal" fill="#000" >Time (s)</text>
<rect x="41.5" y="204.5" width="86.00" height="110.0" fill="none" stroke="#8a8a8a" stroke-width="1"/>
<line x1="58.70" y1="314.5" x2="58.70" y2="313.2" stroke="#8a8a8a" stroke-width="0.7"/>
<line x1="58.70" y1="204.5" x2="58.70" y2="205.8" stroke="#8a8a8a" stroke-width="0.7"/>
<line x1="93.10" y1="314.5" x2="93.10" y2="313.2" stroke="#8a8a8a" stroke-width="0.7"/>
<line x1="93.10" y1="204.5" x2="93.10" y2="205.8" stroke="#8a8a8a" stroke-width="0.7"/>
<line x1="127.50" y1="314.5" x2="127.50" y2="313.2" stroke="#8a8a8a" stroke-width="0.7"/>
<line x1="127.50" y1="204.5" x2="127.50" y2="205.8" stroke="#8a8a8a" stroke-width="0.7"/>
<line x1="41.5" y1="204.50" x2="42.8" y2="204.50" stroke="#8a8a8a" stroke-width="0.7"/>
<line x1="127.5" y1="204.50" x2="126.2" y2="204.50" stroke="#8a8a8a" stroke-width="0.7"/>
<line x1="41.5" y1="241.17" x2="42.8" y2="241.17" stroke="#8a8a8a" stroke-width="0.7"/>
<line x1="127.5" y1="241.17" x2="126.2" y2="241.17" stroke="#8a8a8a" stroke-width="0.7"/>
<line x1="41.5" y1="277.83" x2="42.8" y2="277.83" stroke="#8a8a8a" stroke-width="0.7"/>
<line x1="127.5" y1="277.83" x2="126.2" y2="277.83" stroke="#8a8a8a" stroke-width="0.7"/>
<line x1="41.5" y1="314.50" x2="42.8" y2="314.50" stroke="#8a8a8a" stroke-width="0.7"/>
<line x1="127.5" y1="314.50" x2="126.2" y2="314.50" stroke="#8a8a8a" stroke-width="0.7"/>
<text x="58.70" y="326.20" font-size="9.9" text-anchor="middle" font-weight="normal" fill="#000" >0</text>
<text x="93.10" y="326.20" font-size="9.9" text-anchor="middle" font-weight="normal" fill="#000" >10</text>
<text x="127.50" y="326.20" font-size="9.9" text-anchor="middle" font-weight="normal" fill="#000" >20</text>
<text x="37.60" y="208.00" font-size="9.9" text-anchor="end" font-weight="normal" fill="#000" >1.2</text>
<text x="37.60" y="244.67" font-size="9.9" text-anchor="end" font-weight="normal" fill="#000" >1.1</text>
<text x="38.30" y="281.33" font-size="9.9" text-anchor="end" font-weight="normal" fill="#000" >1</text>
<text x="37.60" y="318.00" font-size="9.9" text-anchor="end" font-weight="normal" fill="#000" >0.9</text>
<rect x="174.5" y="204.5" width="86.40" height="110.0" fill="none" stroke="#8a8a8a" stroke-width="1"/>
<line x1="191.78" y1="314.5" x2="191.78" y2="313.2" stroke="#8a8a8a" stroke-width="0.7"/>
<line x1="191.78" y1="204.5" x2="191.78" y2="205.8" stroke="#8a8a8a" stroke-width="0.7"/>
<line x1="226.34" y1="314.5" x2="226.34" y2="313.2" stroke="#8a8a8a" stroke-width="0.7"/>
<line x1="226.34" y1="204.5" x2="226.34" y2="205.8" stroke="#8a8a8a" stroke-width="0.7"/>
<line x1="260.90" y1="314.5" x2="260.90" y2="313.2" stroke="#8a8a8a" stroke-width="0.7"/>
<line x1="260.90" y1="204.5" x2="260.90" y2="205.8" stroke="#8a8a8a" stroke-width="0.7"/>
<line x1="174.5" y1="204.50" x2="175.8" y2="204.50" stroke="#8a8a8a" stroke-width="0.7"/>
<line x1="260.9" y1="204.50" x2="259.59999999999997" y2="204.50" stroke="#8a8a8a" stroke-width="0.7"/>
<line x1="174.5" y1="241.17" x2="175.8" y2="241.17" stroke="#8a8a8a" stroke-width="0.7"/>
<line x1="260.9" y1="241.17" x2="259.59999999999997" y2="241.17" stroke="#8a8a8a" stroke-width="0.7"/>
<line x1="174.5" y1="277.83" x2="175.8" y2="277.83" stroke="#8a8a8a" stroke-width="0.7"/>
<line x1="260.9" y1="277.83" x2="259.59999999999997" y2="277.83" stroke="#8a8a8a" stroke-width="0.7"/>
<line x1="174.5" y1="314.50" x2="175.8" y2="314.50" stroke="#8a8a8a" stroke-width="0.7"/>
<line x1="260.9" y1="314.50" x2="259.59999999999997" y2="314.50" stroke="#8a8a8a" stroke-width="0.7"/>
<text x="191.78" y="326.20" font-size="9.9" text-anchor="middle" font-weight="normal" fill="#000" >0</text>
<text x="226.34" y="326.20" font-size="9.9" text-anchor="middle" font-weight="normal" fill="#000" >10</text>
<text x="260.90" y="326.20" font-size="9.9" text-anchor="middle" font-weight="normal" fill="#000" >20</text>
<text x="170.00" y="208.00" font-size="9.9" text-anchor="end" font-weight="normal" fill="#000" >1.2</text>
<text x="170.00" y="244.67" font-size="9.9" text-anchor="end" font-weight="normal" fill="#000" >1.1</text>
<text x="170.70" y="281.33" font-size="9.9" text-anchor="end" font-weight="normal" fill="#000" >1</text>
<text x="170.00" y="318.00" font-size="9.9" text-anchor="end" font-weight="normal" fill="#000" >0.9</text>
<rect x="313.5" y="204.5" width="87.00" height="110.0" fill="none" stroke="#8a8a8a" stroke-width="1"/>
<line x1="330.90" y1="314.5" x2="330.90" y2="313.2" stroke="#8a8a8a" stroke-width="0.7"/>
<line x1="330.90" y1="204.5" x2="330.90" y2="205.8" stroke="#8a8a8a" stroke-width="0.7"/>
<line x1="365.70" y1="314.5" x2="365.70" y2="313.2" stroke="#8a8a8a" stroke-width="0.7"/>
<line x1="365.70" y1="204.5" x2="365.70" y2="205.8" stroke="#8a8a8a" stroke-width="0.7"/>
<line x1="400.50" y1="314.5" x2="400.50" y2="313.2" stroke="#8a8a8a" stroke-width="0.7"/>
<line x1="400.50" y1="204.5" x2="400.50" y2="205.8" stroke="#8a8a8a" stroke-width="0.7"/>
<line x1="313.5" y1="204.50" x2="314.8" y2="204.50" stroke="#8a8a8a" stroke-width="0.7"/>
<line x1="400.5" y1="204.50" x2="399.2" y2="204.50" stroke="#8a8a8a" stroke-width="0.7"/>
<line x1="313.5" y1="241.17" x2="314.8" y2="241.17" stroke="#8a8a8a" stroke-width="0.7"/>
<line x1="400.5" y1="241.17" x2="399.2" y2="241.17" stroke="#8a8a8a" stroke-width="0.7"/>
<line x1="313.5" y1="277.83" x2="314.8" y2="277.83" stroke="#8a8a8a" stroke-width="0.7"/>
<line x1="400.5" y1="277.83" x2="399.2" y2="277.83" stroke="#8a8a8a" stroke-width="0.7"/>
<line x1="313.5" y1="314.50" x2="314.8" y2="314.50" stroke="#8a8a8a" stroke-width="0.7"/>
<line x1="400.5" y1="314.50" x2="399.2" y2="314.50" stroke="#8a8a8a" stroke-width="0.7"/>
<text x="330.90" y="326.20" font-size="9.9" text-anchor="middle" font-weight="normal" fill="#000" >0</text>
<text x="365.70" y="326.20" font-size="9.9" text-anchor="middle" font-weight="normal" fill="#000" >10</text>
<text x="400.50" y="326.20" font-size="9.9" text-anchor="middle" font-weight="normal" fill="#000" >20</text>
<text x="309.60" y="208.00" font-size="9.9" text-anchor="end" font-weight="normal" fill="#000" >1.2</text>
<text x="309.60" y="244.67" font-size="9.9" text-anchor="end" font-weight="normal" fill="#000" >1.1</text>
<text x="310.30" y="281.33" font-size="9.9" text-anchor="end" font-weight="normal" fill="#000" >1</text>
<text x="309.60" y="318.00" font-size="9.9" text-anchor="end" font-weight="normal" fill="#000" >0.9</text>
<rect x="445.5" y="204.5" width="86.00" height="110.0" fill="none" stroke="#8a8a8a" stroke-width="1"/>
<line x1="462.70" y1="314.5" x2="462.70" y2="313.2" stroke="#8a8a8a" stroke-width="0.7"/>
<line x1="462.70" y1="204.5" x2="462.70" y2="205.8" stroke="#8a8a8a" stroke-width="0.7"/>
<line x1="497.10" y1="314.5" x2="497.10" y2="313.2" stroke="#8a8a8a" stroke-width="0.7"/>
<line x1="497.10" y1="204.5" x2="497.10" y2="205.8" stroke="#8a8a8a" stroke-width="0.7"/>
<line x1="531.50" y1="314.5" x2="531.50" y2="313.2" stroke="#8a8a8a" stroke-width="0.7"/>
<line x1="531.50" y1="204.5" x2="531.50" y2="205.8" stroke="#8a8a8a" stroke-width="0.7"/>
<line x1="445.5" y1="204.50" x2="446.8" y2="204.50" stroke="#8a8a8a" stroke-width="0.7"/>
<line x1="531.5" y1="204.50" x2="530.2" y2="204.50" stroke="#8a8a8a" stroke-width="0.7"/>
<line x1="445.5" y1="241.17" x2="446.8" y2="241.17" stroke="#8a8a8a" stroke-width="0.7"/>
<line x1="531.5" y1="241.17" x2="530.2" y2="241.17" stroke="#8a8a8a" stroke-width="0.7"/>
<line x1="445.5" y1="277.83" x2="446.8" y2="277.83" stroke="#8a8a8a" stroke-width="0.7"/>
<line x1="531.5" y1="277.83" x2="530.2" y2="277.83" stroke="#8a8a8a" stroke-width="0.7"/>
<line x1="445.5" y1="314.50" x2="446.8" y2="314.50" stroke="#8a8a8a" stroke-width="0.7"/>
<line x1="531.5" y1="314.50" x2="530.2" y2="314.50" stroke="#8a8a8a" stroke-width="0.7"/>
<text x="462.70" y="326.20" font-size="9.9" text-anchor="middle" font-weight="normal" fill="#000" >0</text>
<text x="497.10" y="326.20" font-size="9.9" text-anchor="middle" font-weight="normal" fill="#000" >10</text>
<text x="531.50" y="326.20" font-size="9.9" text-anchor="middle" font-weight="normal" fill="#000" >20</text>
<text x="441.60" y="208.00" font-size="9.9" text-anchor="end" font-weight="normal" fill="#000" >1.2</text>
<text x="441.60" y="244.67" font-size="9.9" text-anchor="end" font-weight="normal" fill="#000" >1.1</text>
<text x="442.30" y="281.33" font-size="9.9" text-anchor="end" font-weight="normal" fill="#000" >1</text>
<text x="441.60" y="318.00" font-size="9.9" text-anchor="end" font-weight="normal" fill="#000" >0.9</text>
<path d="M42.0,277.5 L59.6,277.5" fill="none" stroke="#000" stroke-width="3.0" stroke-linejoin="round" stroke-linecap="butt" />
<path d="M59.5,277.2 L59.7,277.7 L59.9,278.1 L60.1,278.5 L60.3,279.0 L60.5,279.4 L60.8,279.9 L61.1,280.4 L61.5,281.0 L62.0,281.6 L62.5,282.3 L63.2,283.1 L63.8,283.9 L64.5,284.6 L65.2,285.4 L65.8,286.0 L66.4,286.6 L66.9,287.1 L67.4,287.5 L67.8,287.8 L68.2,288.1 L68.6,288.3 L69.1,288.6 L69.7,289.0 L70.5,289.4 L71.4,289.9 L72.4,290.3 L73.5,290.8 L74.7,291.3 L76.0,291.9 L77.3,292.5 L78.7,293.2 L80.2,294.0 L81.8,294.9 L83.4,295.9 L85.2,297.0 L87.0,298.2 L88.9,299.4 L90.9,300.7 L92.9,301.9 L94.9,303.2 L97.0,304.5 L99.2,305.8 L101.4,307.2 L103.7,308.6 L105.9,310.1 L108.3,311.5 L110.5,312.9 L112.8,314.3" fill="none" stroke="#000" stroke-width="1.0" stroke-linejoin="round" stroke-linecap="round" />
<path d="M116.29,314.55 L116.76,313.98 L117.22,313.40 L117.69,312.83 L118.16,312.26 L118.63,311.68 L119.10,311.11 L119.57,310.54 L120.06,309.96 L120.55,309.36 L121.04,308.74 L121.52,308.13 L122.01,307.52 L122.50,306.93 L122.98,306.38 L123.46,305.86 L123.94,305.38 L124.42,304.95 L124.92,304.55 L125.43,304.17 L125.96,303.80 L126.51,303.43 L127.07,303.05 L127.64,302.65 L128.21,302.24 L126.19,299.76 L125.70,300.20 L125.21,300.64 L124.70,301.07 L124.18,301.52 L123.65,302.00 L123.11,302.50 L122.58,303.04 L122.06,303.62 L121.56,304.24 L121.09,304.88 L120.64,305.54 L120.20,306.22 L119.78,306.89 L119.36,307.56 L118.95,308.21 L118.54,308.84 L118.13,309.47 L117.72,310.10 L117.32,310.73 L116.92,311.35 L116.52,311.98 L116.12,312.60 L115.72,313.22 L115.31,313.85Z" fill="#000"/>
<circle cx="115.80" cy="314.20" r="0.60" fill="#000"/>
<path d="M175.0,277.5 L191.6,277.5" fill="none" stroke="#000" stroke-width="3.0" stroke-linejoin="round" stroke-linecap="butt" />
<path d="M191.6,277.3 L191.6,242.1" fill="none" stroke="#000" stroke-width="1.0" stroke-linejoin="round" stroke-linecap="round" />
<path d="M191.6,241.3 L192.3,245.9 L192.9,250.1 L193.6,254.0 L194.3,257.6 L194.9,260.9 L195.6,263.9 L196.3,266.7 L197.0,269.3 L197.6,271.7 L198.3,273.9 L199.0,275.9 L199.6,277.9 L200.3,279.6 L201.0,281.3 L201.6,282.8 L202.3,284.2 L203.0,285.6 L203.7,286.8 L204.3,288.0 L205.0,289.1 L205.7,290.2 L206.3,291.1 L207.0,292.1 L207.7,293.0 L208.3,293.8 L209.0,294.6 L209.7,295.4 L210.3,296.1 L211.0,296.8 L211.7,297.5 L212.4,298.1 L213.0,298.7 L213.7,299.3 L214.4,299.9 L215.0,300.5 L215.7,301.0 L216.4,301.6 L217.0,302.1 L217.7,302.6 L218.4,303.1 L219.0,303.6 L219.7,304.1 L220.4,304.5 L221.1,305.0 L221.7,305.5 L222.4,305.9 L223.1,306.4 L223.7,306.8 L224.4,307.2 L225.1,307.7 L225.7,308.1 L226.4,308.5 L227.1,308.9 L227.8,309.4 L228.4,309.8 L229.1,310.2 L229.8,310.6 L230.4,311.0 L231.1,311.4" fill="none" stroke="#000" stroke-width="1.0" stroke-linejoin="round" stroke-linecap="round" />
<path d="M231.69,311.47 L232.20,310.42 L232.70,309.36 L233.19,308.29 L233.68,307.24 L234.18,306.20 L234.69,305.18 L235.22,304.19 L235.78,303.24 L236.37,302.29 L237.00,301.33 L237.66,300.37 L238.32,299.44 L238.99,298.56 L239.65,297.75 L240.29,297.02 L240.90,296.39 L241.48,295.88 L242.04,295.46 L242.59,295.10 L243.14,294.80 L243.71,294.52 L244.29,294.27 L244.89,294.03 L245.51,293.77 L246.08,293.55 L246.57,293.37 L247.03,293.22 L247.50,293.09 L248.02,292.97 L248.63,292.86 L249.37,292.73 L250.24,292.60 L251.28,292.45 L252.46,292.31 L253.76,292.18 L255.14,292.04 L256.57,291.90 L258.02,291.76 L259.44,291.63 L260.82,291.49 L260.38,288.11 L259.03,288.32 L257.62,288.54 L256.19,288.75 L254.76,288.96 L253.37,289.17 L252.05,289.39 L250.84,289.60 L249.76,289.80 L248.85,289.99 L248.07,290.17 L247.40,290.34 L246.78,290.51 L246.21,290.70 L245.65,290.91 L245.08,291.15 L244.49,291.43 L243.88,291.71 L243.26,292.01 L242.62,292.32 L241.97,292.68 L241.31,293.09 L240.64,293.58 L239.96,294.15 L239.30,294.81 L238.63,295.57 L237.97,296.41 L237.31,297.32 L236.65,298.28 L236.01,299.28 L235.39,300.31 L234.79,301.34 L234.22,302.36 L233.69,303.39 L233.19,304.45 L232.72,305.53 L232.27,306.61 L231.83,307.70 L231.39,308.79 L230.96,309.87 L230.51,310.93Z" fill="#000"/>
<circle cx="231.10" cy="311.20" r="0.65" fill="#000"/>
<path d="M314.0,277.8 L332.6,277.8" fill="none" stroke="#000" stroke-width="3.0" stroke-linejoin="round" stroke-linecap="butt" />
<path d="M332.6,277.8 L333.2,275.7 L333.7,273.7 L334.3,271.6 L334.9,269.6 L335.5,267.5 L336.0,265.4 L336.6,263.4 L337.2,261.3 L337.8,259.2 L338.4,257.1 L339.0,254.9 L339.6,252.7 L340.2,250.6 L340.9,248.6 L341.4,246.6 L342.0,244.8 L342.5,243.1 L343.1,241.4 L343.5,239.7 L344.0,238.2 L344.5,236.8 L345.0,235.4 L345.5,234.2 L346.0,233.2 L346.5,232.3 L347.0,231.5 L347.6,230.8 L348.1,230.2 L348.6,229.8 L349.1,229.5 L349.7,229.4 L350.2,229.4 L350.7,229.6 L351.3,230.0 L351.8,230.5 L352.3,231.2 L352.9,232.0 L353.4,233.0 L353.9,234.0 L354.4,235.2 L354.9,236.6 L355.4,238.2 L355.8,240.0 L356.3,241.9 L356.7,243.9 L357.2,245.7 L357.6,247.3 L358.0,248.6 L358.4,249.6 L358.8,250.5 L359.2,251.2 L359.6,251.8 L359.9,252.3 L360.3,252.8 L360.6,253.2 L361.0,253.6 L361.3,254.0 L361.7,254.3 L362.0,254.5 L362.3,254.7 L362.6,254.8 L363.0,255.0 L363.3,255.1 L363.6,255.3" fill="none" stroke="#000" stroke-width="1.5" stroke-linejoin="round" stroke-linecap="round" />
<path d="M359.84,253.12 L360.24,253.55 L360.62,254.02 L361.03,254.52 L361.44,255.02 L361.87,255.52 L362.33,255.98 L362.84,256.39 L363.40,256.71 L363.96,256.91 L364.52,256.98 L365.05,256.96 L365.53,256.85 L365.97,256.71 L366.41,256.55 L366.85,256.38 L367.39,256.20 L368.05,255.94 L368.78,255.61 L369.53,255.23 L370.29,254.86 L371.04,254.50 L371.76,254.21 L372.41,254.00 L372.97,253.89 L373.48,253.87 L373.98,253.92 L374.49,254.01 L375.03,254.16 L375.60,254.35 L376.22,254.57 L376.89,254.81 L377.59,255.05 L378.29,255.30 L379.00,255.58 L379.74,255.90 L380.52,256.24 L381.34,256.60 L382.19,256.95 L383.07,257.29 L383.98,257.60 L384.90,257.88 L385.84,258.14 L386.79,258.39 L387.76,258.62 L388.74,258.85 L389.72,259.07 L390.71,259.29 L391.70,259.50 L392.71,259.70 L393.74,259.90 L394.77,260.09 L395.81,260.27 L396.84,260.44 L397.88,260.62 L398.90,260.80 L399.92,260.98 L400.48,257.42 L399.44,257.28 L398.40,257.15 L397.35,257.02 L396.32,256.88 L395.29,256.75 L394.28,256.61 L393.28,256.46 L392.30,256.30 L391.32,256.14 L390.34,255.97 L389.37,255.79 L388.41,255.61 L387.48,255.43 L386.56,255.23 L385.67,255.02 L384.82,254.80 L384.00,254.56 L383.19,254.29 L382.38,253.99 L381.58,253.68 L380.78,253.37 L379.98,253.07 L379.18,252.79 L378.41,252.55 L377.70,252.34 L377.04,252.13 L376.38,251.92 L375.70,251.73 L374.99,251.57 L374.24,251.47 L373.46,251.44 L372.63,251.51 L371.76,251.71 L370.90,252.03 L370.07,252.41 L369.26,252.83 L368.49,253.25 L367.79,253.64 L367.16,253.97 L366.61,254.20 L366.10,254.40 L365.63,254.60 L365.25,254.76 L364.96,254.87 L364.74,254.93 L364.57,254.95 L364.41,254.94 L364.20,254.89 L363.94,254.75 L363.63,254.52 L363.26,254.18 L362.87,253.76 L362.46,253.30 L362.03,252.81 L361.59,252.33 L361.16,251.88Z" fill="#000"/>
<circle cx="360.50" cy="252.50" r="0.90" fill="#000"/>
<path d="M446.0,277.5 L462.5,277.5" fill="none" stroke="#000" stroke-width="3.0" stroke-linejoin="round" stroke-linecap="butt" />
<path d="M462.3,277.5 L462.4,314.2" fill="none" stroke="#000" stroke-width="1.0" stroke-linejoin="round" stroke-linecap="round" />
<path d="M462.4,314.2 L462.5,311.4 L462.7,308.5 L462.8,305.6 L463.0,302.8 L463.1,299.9 L463.3,297.1 L463.4,294.3 L463.6,291.6 L463.8,288.9 L463.9,286.1 L464.1,283.4 L464.3,280.7 L464.5,278.0 L464.6,275.5 L464.8,273.1 L465.0,270.8 L465.2,268.7 L465.4,266.7 L465.5,264.9 L465.7,263.1 L465.9,261.5 L466.1,259.9 L466.2,258.4 L466.4,256.9 L466.5,255.6 L466.7,254.5 L466.8,253.5 L466.9,252.5 L467.0,251.5 L467.2,250.4 L467.4,249.1 L467.6,247.5 L467.9,245.5 L468.2,243.3 L468.5,240.8 L468.9,238.2 L469.2,235.6 L469.6,233.0 L470.0,230.6 L470.3,228.4 L470.6,226.4 L470.9,224.5 L471.2,222.7 L471.5,221.0 L471.8,219.3 L472.1,217.8 L472.5,216.5 L472.8,215.2 L473.2,214.0 L473.5,212.8 L473.9,211.7 L474.3,210.8 L474.7,210.0 L475.1,209.5 L475.5,209.3 L475.9,209.4 L476.3,209.9 L476.7,210.8 L477.1,211.9 L477.5,213.3 L477.8,214.9 L478.2,216.7 L478.6,218.5 L478.9,220.3 L479.2,222.3 L479.5,224.4 L479.8,226.8 L480.0,229.2 L480.3,231.6 L480.5,234.1 L480.7,236.4 L481.0,238.6 L481.2,240.7 L481.5,242.7 L481.7,244.6 L482.0,246.5 L482.2,248.4 L482.4,250.2 L482.7,252.1 L483.0,253.9 L483.3,255.7 L483.6,257.5 L483.9,259.3 L484.3,261.1 L484.6,262.9 L485.0,264.6 L485.4,266.3 L485.8,268.0 L486.3,269.6 L486.7,271.2 L487.2,272.8 L487.8,274.4 L488.3,275.9 L488.8,277.4 L489.4,278.9 L489.9,280.5" fill="none" stroke="#000" stroke-width="1.0" stroke-linejoin="round" stroke-linecap="round" />
<path d="M490.70,281.21 L491.19,280.64 L491.67,280.07 L492.15,279.50 L492.63,278.93 L493.11,278.36 L493.59,277.81 L494.08,277.26 L494.58,276.71 L495.09,276.16 L495.61,275.59 L496.13,275.03 L496.65,274.48 L497.17,273.95 L497.69,273.46 L498.21,273.02 L498.73,272.62 L499.27,272.27 L499.82,271.95 L500.39,271.66 L500.97,271.40 L501.56,271.16 L502.15,270.94 L502.74,270.74 L503.32,270.56 L503.87,270.38 L504.34,270.24 L504.74,270.12 L505.13,270.03 L505.56,269.96 L506.09,269.92 L506.75,269.90 L507.59,269.91 L508.61,269.96 L509.79,270.05 L511.09,270.17 L512.49,270.33 L513.96,270.50 L515.46,270.67 L516.98,270.86 L518.47,271.03 L519.97,271.21 L521.50,271.39 L523.06,271.58 L524.65,271.78 L526.25,271.99 L527.85,272.19 L529.45,272.39 L531.03,272.59 L531.37,269.41 L529.78,269.28 L528.17,269.14 L526.56,269.00 L524.95,268.87 L523.36,268.73 L521.78,268.60 L520.23,268.48 L518.73,268.37 L517.23,268.26 L515.71,268.14 L514.20,268.02 L512.71,267.91 L511.28,267.82 L509.94,267.74 L508.71,267.70 L507.61,267.69 L506.69,267.72 L505.92,267.77 L505.27,267.86 L504.69,267.97 L504.17,268.11 L503.69,268.27 L503.21,268.45 L502.68,268.64 L502.07,268.86 L501.45,269.10 L500.82,269.37 L500.18,269.66 L499.54,269.99 L498.90,270.34 L498.28,270.74 L497.67,271.18 L497.07,271.66 L496.50,272.19 L495.95,272.75 L495.42,273.34 L494.91,273.93 L494.40,274.52 L493.91,275.11 L493.42,275.69 L492.93,276.26 L492.45,276.85 L491.98,277.44 L491.52,278.03 L491.06,278.63 L490.61,279.22 L490.16,279.80 L489.70,280.39Z" fill="#000"/>
<circle cx="490.20" cy="280.80" r="0.65" fill="#000"/>
<rect x="41.5" y="358.5" width="86.00" height="110.0" fill="none" stroke="#8a8a8a" stroke-width="1"/>
<line x1="41.50" y1="468.5" x2="41.50" y2="467.2" stroke="#8a8a8a" stroke-width="0.7"/>
<line x1="41.50" y1="358.5" x2="41.50" y2="359.8" stroke="#8a8a8a" stroke-width="0.7"/>
<line x1="102.93" y1="468.5" x2="102.93" y2="467.2" stroke="#8a8a8a" stroke-width="0.7"/>
<line x1="102.93" y1="358.5" x2="102.93" y2="359.8" stroke="#8a8a8a" stroke-width="0.7"/>
<line x1="41.5" y1="358.50" x2="42.8" y2="358.50" stroke="#8a8a8a" stroke-width="0.7"/>
<line x1="127.5" y1="358.50" x2="126.2" y2="358.50" stroke="#8a8a8a" stroke-width="0.7"/>
<line x1="41.5" y1="386.00" x2="42.8" y2="386.00" stroke="#8a8a8a" stroke-width="0.7"/>
<line x1="127.5" y1="386.00" x2="126.2" y2="386.00" stroke="#8a8a8a" stroke-width="0.7"/>
<line x1="41.5" y1="413.50" x2="42.8" y2="413.50" stroke="#8a8a8a" stroke-width="0.7"/>
<line x1="127.5" y1="413.50" x2="126.2" y2="413.50" stroke="#8a8a8a" stroke-width="0.7"/>
<line x1="41.5" y1="441.00" x2="42.8" y2="441.00" stroke="#8a8a8a" stroke-width="0.7"/>
<line x1="127.5" y1="441.00" x2="126.2" y2="441.00" stroke="#8a8a8a" stroke-width="0.7"/>
<line x1="41.5" y1="468.50" x2="42.8" y2="468.50" stroke="#8a8a8a" stroke-width="0.7"/>
<line x1="127.5" y1="468.50" x2="126.2" y2="468.50" stroke="#8a8a8a" stroke-width="0.7"/>
<text x="37.60" y="362.00" font-size="9.9" text-anchor="end" font-weight="normal" fill="#000" >0.6</text>
<text x="37.60" y="389.50" font-size="9.9" text-anchor="end" font-weight="normal" fill="#000" >0.4</text>
<text x="37.60" y="417.00" font-size="9.9" text-anchor="end" font-weight="normal" fill="#000" >0.2</text>
<text x="38.50" y="444.50" font-size="9.9" text-anchor="end" font-weight="normal" fill="#000" >0</text>
<text x="37.60" y="472.00" font-size="9.9" text-anchor="end" font-weight="normal" fill="#000" >-0.2</text>
<text x="41.50" y="480.20" font-size="9.9" text-anchor="middle" font-weight="normal" fill="#000" >-65</text>
<text x="102.93" y="480.20" font-size="9.9" text-anchor="middle" font-weight="normal" fill="#000" >-60</text>
<rect x="174.5" y="358.5" width="86.40" height="110.0" fill="none" stroke="#8a8a8a" stroke-width="1"/>
<line x1="174.50" y1="468.5" x2="174.50" y2="467.2" stroke="#8a8a8a" stroke-width="0.7"/>
<line x1="174.50" y1="358.5" x2="174.50" y2="359.8" stroke="#8a8a8a" stroke-width="0.7"/>
<line x1="236.21" y1="468.5" x2="236.21" y2="467.2" stroke="#8a8a8a" stroke-width="0.7"/>
<line x1="236.21" y1="358.5" x2="236.21" y2="359.8" stroke="#8a8a8a" stroke-width="0.7"/>
<line x1="174.5" y1="358.50" x2="175.8" y2="358.50" stroke="#8a8a8a" stroke-width="0.7"/>
<line x1="260.9" y1="358.50" x2="259.59999999999997" y2="358.50" stroke="#8a8a8a" stroke-width="0.7"/>
<line x1="174.5" y1="386.00" x2="175.8" y2="386.00" stroke="#8a8a8a" stroke-width="0.7"/>
<line x1="260.9" y1="386.00" x2="259.59999999999997" y2="386.00" stroke="#8a8a8a" stroke-width="0.7"/>
<line x1="174.5" y1="413.50" x2="175.8" y2="413.50" stroke="#8a8a8a" stroke-width="0.7"/>
<line x1="260.9" y1="413.50" x2="259.59999999999997" y2="413.50" stroke="#8a8a8a" stroke-width="0.7"/>
<line x1="174.5" y1="441.00" x2="175.8" y2="441.00" stroke="#8a8a8a" stroke-width="0.7"/>
<line x1="260.9" y1="441.00" x2="259.59999999999997" y2="441.00" stroke="#8a8a8a" stroke-width="0.7"/>
<line x1="174.5" y1="468.50" x2="175.8" y2="468.50" stroke="#8a8a8a" stroke-width="0.7"/>
<line x1="260.9" y1="468.50" x2="259.59999999999997" y2="468.50" stroke="#8a8a8a" stroke-width="0.7"/>
<text x="170.00" y="362.00" font-size="9.9" text-anchor="end" font-weight="normal" fill="#000" >0.6</text>
<text x="170.00" y="389.50" font-size="9.9" text-anchor="end" font-weight="normal" fill="#000" >0.4</text>
<text x="170.00" y="417.00" font-size="9.9" text-anchor="end" font-weight="normal" fill="#000" >0.2</text>
<text x="170.90" y="444.50" font-size="9.9" text-anchor="end" font-weight="normal" fill="#000" >0</text>
<text x="170.00" y="472.00" font-size="9.9" text-anchor="end" font-weight="normal" fill="#000" >-0.2</text>
<text x="174.50" y="480.20" font-size="9.9" text-anchor="middle" font-weight="normal" fill="#000" >-65</text>
<text x="236.21" y="480.20" font-size="9.9" text-anchor="middle" font-weight="normal" fill="#000" >-60</text>
<rect x="313.5" y="358.5" width="87.00" height="110.0" fill="none" stroke="#8a8a8a" stroke-width="1"/>
<line x1="313.50" y1="468.5" x2="313.50" y2="467.2" stroke="#8a8a8a" stroke-width="0.7"/>
<line x1="313.50" y1="358.5" x2="313.50" y2="359.8" stroke="#8a8a8a" stroke-width="0.7"/>
<line x1="375.64" y1="468.5" x2="375.64" y2="467.2" stroke="#8a8a8a" stroke-width="0.7"/>
<line x1="375.64" y1="358.5" x2="375.64" y2="359.8" stroke="#8a8a8a" stroke-width="0.7"/>
<line x1="313.5" y1="358.50" x2="314.8" y2="358.50" stroke="#8a8a8a" stroke-width="0.7"/>
<line x1="400.5" y1="358.50" x2="399.2" y2="358.50" stroke="#8a8a8a" stroke-width="0.7"/>
<line x1="313.5" y1="395.17" x2="314.8" y2="395.17" stroke="#8a8a8a" stroke-width="0.7"/>
<line x1="400.5" y1="395.17" x2="399.2" y2="395.17" stroke="#8a8a8a" stroke-width="0.7"/>
<line x1="313.5" y1="431.83" x2="314.8" y2="431.83" stroke="#8a8a8a" stroke-width="0.7"/>
<line x1="400.5" y1="431.83" x2="399.2" y2="431.83" stroke="#8a8a8a" stroke-width="0.7"/>
<line x1="313.5" y1="468.50" x2="314.8" y2="468.50" stroke="#8a8a8a" stroke-width="0.7"/>
<line x1="400.5" y1="468.50" x2="399.2" y2="468.50" stroke="#8a8a8a" stroke-width="0.7"/>
<text x="309.60" y="362.00" font-size="9.9" text-anchor="end" font-weight="normal" fill="#000" >0.6</text>
<text x="309.60" y="398.67" font-size="9.9" text-anchor="end" font-weight="normal" fill="#000" >0.4</text>
<text x="309.60" y="435.33" font-size="9.9" text-anchor="end" font-weight="normal" fill="#000" >0.2</text>
<text x="310.50" y="472.00" font-size="9.9" text-anchor="end" font-weight="normal" fill="#000" >0</text>
<text x="313.50" y="480.20" font-size="9.9" text-anchor="middle" font-weight="normal" fill="#000" >-65</text>
<text x="375.64" y="480.20" font-size="9.9" text-anchor="middle" font-weight="normal" fill="#000" >-60</text>
<rect x="445.5" y="358.5" width="86.00" height="110.0" fill="none" stroke="#8a8a8a" stroke-width="1"/>
<line x1="445.50" y1="468.5" x2="445.50" y2="467.2" stroke="#8a8a8a" stroke-width="0.7"/>
<line x1="445.50" y1="358.5" x2="445.50" y2="359.8" stroke="#8a8a8a" stroke-width="0.7"/>
<line x1="506.93" y1="468.5" x2="506.93" y2="467.2" stroke="#8a8a8a" stroke-width="0.7"/>
<line x1="506.93" y1="358.5" x2="506.93" y2="359.8" stroke="#8a8a8a" stroke-width="0.7"/>
<line x1="445.5" y1="380.50" x2="446.8" y2="380.50" stroke="#8a8a8a" stroke-width="0.7"/>
<line x1="531.5" y1="380.50" x2="530.2" y2="380.50" stroke="#8a8a8a" stroke-width="0.7"/>
<line x1="445.5" y1="402.50" x2="446.8" y2="402.50" stroke="#8a8a8a" stroke-width="0.7"/>
<line x1="531.5" y1="402.50" x2="530.2" y2="402.50" stroke="#8a8a8a" stroke-width="0.7"/>
<line x1="445.5" y1="424.50" x2="446.8" y2="424.50" stroke="#8a8a8a" stroke-width="0.7"/>
<line x1="531.5" y1="424.50" x2="530.2" y2="424.50" stroke="#8a8a8a" stroke-width="0.7"/>
<line x1="445.5" y1="446.50" x2="446.8" y2="446.50" stroke="#8a8a8a" stroke-width="0.7"/>
<line x1="531.5" y1="446.50" x2="530.2" y2="446.50" stroke="#8a8a8a" stroke-width="0.7"/>
<line x1="445.5" y1="468.50" x2="446.8" y2="468.50" stroke="#8a8a8a" stroke-width="0.7"/>
<line x1="531.5" y1="468.50" x2="530.2" y2="468.50" stroke="#8a8a8a" stroke-width="0.7"/>
<text x="441.60" y="384.00" font-size="9.9" text-anchor="end" font-weight="normal" fill="#000" >0.6</text>
<text x="441.60" y="406.00" font-size="9.9" text-anchor="end" font-weight="normal" fill="#000" >0.4</text>
<text x="441.60" y="428.00" font-size="9.9" text-anchor="end" font-weight="normal" fill="#000" >0.2</text>
<text x="442.50" y="450.00" font-size="9.9" text-anchor="end" font-weight="normal" fill="#000" >0</text>
<text x="441.60" y="472.00" font-size="9.9" text-anchor="end" font-weight="normal" fill="#000" >-0.2</text>
<text x="445.50" y="480.20" font-size="9.9" text-anchor="middle" font-weight="normal" fill="#000" >-65</text>
<text x="506.93" y="480.20" font-size="9.9" text-anchor="middle" font-weight="normal" fill="#000" >-60</text>
<clipPath id="c0"><rect x="41.5" y="358.5" width="86.0" height="110.0"/></clipPath>
<clipPath id="c1"><rect x="174.5" y="358.5" width="86.39999999999998" height="110.0"/></clipPath>
<clipPath id="c2"><rect x="313.5" y="358.5" width="87.0" height="110.0"/></clipPath>
<clipPath id="c3"><rect x="445.5" y="358.5" width="86.0" height="110.0"/></clipPath>
<path d="M41.5,385.3 L42.7,387.6 L44.0,389.8 L45.2,392.0 L46.5,394.2 L47.7,396.4 L49.0,398.6 L50.2,400.7 L51.5,402.8 L52.7,404.9 L54.0,407.0 L55.2,409.0 L56.5,411.1 L57.7,413.0 L58.9,415.0 L60.2,416.9 L61.4,418.8 L62.7,420.7 L63.9,422.5 L65.2,424.3 L66.4,426.1 L67.7,427.8 L68.9,429.5 L70.2,431.1 L71.4,432.7 L72.7,434.2 L73.9,435.7 L75.2,437.1 L76.4,438.4 L77.6,439.7 L78.9,441.0 L80.1,442.1 L81.4,443.2 L82.6,444.2 L83.9,445.1 L85.1,446.0 L86.4,446.8 L87.6,447.4 L88.9,448.0 L90.1,448.5 L91.4,448.8 L92.6,449.1 L93.8,449.2 L95.1,449.2 L96.3,449.1 L97.6,448.8 L98.8,448.4 L100.1,447.9 L101.3,447.1 L102.6,446.2 L103.8,445.2 L105.1,443.9 L106.3,442.4 L107.6,440.8 L108.8,438.9 L110.1,436.8 L111.3,434.4 L112.5,431.8 L113.8,429.0 L115.0,425.8 L116.3,422.4 L117.5,418.6 L118.8,414.5 L120.0,410.1 L121.3,405.3 L122.5,400.2 L123.8,394.6 L125.0,388.7 L126.3,382.2 L127.5,375.4" fill="none" stroke="#00f0f0" stroke-width="1.5" stroke-linejoin="round" clip-path="url(#c0)"/>
<path d="M41.5,384.3 L42.7,386.5 L44.0,388.8 L45.2,391.0 L46.5,393.2 L47.7,395.4 L49.0,397.5 L50.2,399.7 L51.5,401.8 L52.7,403.9 L54.0,406.0 L55.2,408.0 L56.5,410.0 L57.7,412.0 L58.9,414.0 L60.2,415.9 L61.4,417.8 L62.7,419.7 L63.9,421.5 L65.2,423.3 L66.4,425.1 L67.7,426.8 L68.9,428.5 L70.2,430.1 L71.4,431.7 L72.7,433.2 L73.9,434.7 L75.2,436.1 L76.4,437.5 L77.6,438.7 L78.9,440.0 L80.1,441.1 L81.4,442.2 L82.6,443.2 L83.9,444.2 L85.1,445.0 L86.4,445.8 L87.6,446.5 L88.9,447.0 L90.1,447.5 L91.4,447.9 L92.6,448.1 L93.8,448.2 L95.1,448.2 L96.3,448.1 L97.6,447.8 L98.8,447.4 L100.1,446.9 L101.3,446.1 L102.6,445.2 L103.8,444.2 L105.1,442.9 L106.3,441.4 L107.6,439.8 L108.8,437.9 L110.1,435.8 L111.3,433.4 L112.5,430.8 L113.8,427.9 L115.0,424.8 L116.3,421.3 L117.5,417.6 L118.8,413.5 L120.0,409.1 L121.3,404.3 L122.5,399.1 L123.8,393.6 L125.0,387.6 L126.3,381.2 L127.5,374.3" fill="none" stroke="#20ffd0" stroke-width="1.3" stroke-linejoin="round" clip-path="url(#c0)"/>
<path d="M41.5,383.2 L42.7,385.5 L44.0,387.7 L45.2,389.9 L46.5,392.1 L47.7,394.3 L49.0,396.5 L50.2,398.6 L51.5,400.8 L52.7,402.9 L54.0,405.0 L55.2,407.0 L56.5,409.0 L57.7,411.0 L58.9,413.0 L60.2,414.9 L61.4,416.8 L62.7,418.7 L63.9,420.5 L65.2,422.3 L66.4,424.1 L67.7,425.8 L68.9,427.5 L70.2,429.1 L71.4,430.7 L72.7,432.2 L73.9,433.7 L75.2,435.1 L76.4,436.5 L77.6,437.8 L78.9,439.0 L80.1,440.2 L81.4,441.3 L82.6,442.3 L83.9,443.2 L85.1,444.1 L86.4,444.8 L87.6,445.5 L88.9,446.1 L90.1,446.5 L91.4,446.9 L92.6,447.1 L93.8,447.3 L95.1,447.3 L96.3,447.1 L97.6,446.9 L98.8,446.4 L100.1,445.9 L101.3,445.1 L102.6,444.2 L103.8,443.2 L105.1,441.9 L106.3,440.4 L107.6,438.8 L108.8,436.9 L110.1,434.8 L111.3,432.4 L112.5,429.8 L113.8,426.9 L115.0,423.8 L116.3,420.3 L117.5,416.5 L118.8,412.5 L120.0,408.0 L121.3,403.2 L122.5,398.1 L123.8,392.5 L125.0,386.5 L126.3,380.1 L127.5,373.2" fill="none" stroke="#70ff90" stroke-width="1.3" stroke-linejoin="round" clip-path="url(#c0)"/>
<path d="M41.5,382.2 L42.7,384.4 L44.0,386.7 L45.2,388.9 L46.5,391.1 L47.7,393.3 L49.0,395.5 L50.2,397.6 L51.5,399.7 L52.7,401.8 L54.0,403.9 L55.2,406.0 L56.5,408.0 L57.7,410.0 L58.9,412.0 L60.2,413.9 L61.4,415.8 L62.7,417.7 L63.9,419.6 L65.2,421.4 L66.4,423.1 L67.7,424.8 L68.9,426.5 L70.2,428.1 L71.4,429.7 L72.7,431.2 L73.9,432.7 L75.2,434.1 L76.4,435.5 L77.6,436.8 L78.9,438.0 L80.1,439.2 L81.4,440.3 L82.6,441.3 L83.9,442.2 L85.1,443.1 L86.4,443.8 L87.6,444.5 L88.9,445.1 L90.1,445.5 L91.4,445.9 L92.6,446.2 L93.8,446.3 L95.1,446.3 L96.3,446.1 L97.6,445.9 L98.8,445.5 L100.1,444.9 L101.3,444.2 L102.6,443.3 L103.8,442.2 L105.1,440.9 L106.3,439.4 L107.6,437.8 L108.8,435.9 L110.1,433.8 L111.3,431.4 L112.5,428.8 L113.8,425.9 L115.0,422.7 L116.3,419.3 L117.5,415.5 L118.8,411.4 L120.0,407.0 L121.3,402.2 L122.5,397.0 L123.8,391.4 L125.0,385.5 L126.3,379.0 L127.5,372.1" fill="none" stroke="#b0ff50" stroke-width="1.3" stroke-linejoin="round" clip-path="url(#c0)"/>
<path d="M41.5,381.1 L42.7,383.4 L44.0,385.6 L45.2,387.8 L46.5,390.1 L47.7,392.3 L49.0,394.4 L50.2,396.6 L51.5,398.7 L52.7,400.8 L54.0,402.9 L55.2,405.0 L56.5,407.0 L57.7,409.0 L58.9,411.0 L60.2,412.9 L61.4,414.8 L62.7,416.7 L63.9,418.6 L65.2,420.4 L66.4,422.1 L67.7,423.8 L68.9,425.5 L70.2,427.2 L71.4,428.7 L72.7,430.3 L73.9,431.7 L75.2,433.2 L76.4,434.5 L77.6,435.8 L78.9,437.1 L80.1,438.2 L81.4,439.3 L82.6,440.3 L83.9,441.3 L85.1,442.1 L86.4,442.9 L87.6,443.5 L88.9,444.1 L90.1,444.6 L91.4,444.9 L92.6,445.2 L93.8,445.3 L95.1,445.3 L96.3,445.2 L97.6,444.9 L98.8,444.5 L100.1,443.9 L101.3,443.2 L102.6,442.3 L103.8,441.2 L105.1,439.9 L106.3,438.4 L107.6,436.8 L108.8,434.9 L110.1,432.7 L111.3,430.4 L112.5,427.8 L113.8,424.9 L115.0,421.7 L116.3,418.2 L117.5,414.5 L118.8,410.4 L120.0,405.9 L121.3,401.1 L122.5,396.0 L123.8,390.4 L125.0,384.4 L126.3,378.0 L127.5,371.1" fill="none" stroke="#e8ff20" stroke-width="1.3" stroke-linejoin="round" clip-path="url(#c0)"/>
<path d="M41.5,380.0 L42.7,382.3 L44.0,384.6 L45.2,386.8 L46.5,389.0 L47.7,391.2 L49.0,393.4 L50.2,395.6 L51.5,397.7 L52.7,399.8 L54.0,401.9 L55.2,404.0 L56.5,406.0 L57.7,408.0 L58.9,410.0 L60.2,411.9 L61.4,413.8 L62.7,415.7 L63.9,417.6 L65.2,419.4 L66.4,421.1 L67.7,422.9 L68.9,424.5 L70.2,426.2 L71.4,427.8 L72.7,429.3 L73.9,430.8 L75.2,432.2 L76.4,433.5 L77.6,434.8 L78.9,436.1 L80.1,437.2 L81.4,438.3 L82.6,439.4 L83.9,440.3 L85.1,441.1 L86.4,441.9 L87.6,442.6 L88.9,443.1 L90.1,443.6 L91.4,444.0 L92.6,444.2 L93.8,444.3 L95.1,444.3 L96.3,444.2 L97.6,443.9 L98.8,443.5 L100.1,442.9 L101.3,442.2 L102.6,441.3 L103.8,440.2 L105.1,438.9 L106.3,437.4 L107.6,435.8 L108.8,433.9 L110.1,431.7 L111.3,429.4 L112.5,426.7 L113.8,423.9 L115.0,420.7 L116.3,417.2 L117.5,413.4 L118.8,409.3 L120.0,404.9 L121.3,400.1 L122.5,394.9 L123.8,389.3 L125.0,383.3 L126.3,376.9 L127.5,370.0" fill="none" stroke="#ffff00" stroke-width="1.3" stroke-linejoin="round" clip-path="url(#c0)"/>
<path d="M41.5,379.0 L42.7,381.3 L44.0,383.5 L45.2,385.8 L46.5,388.0 L47.7,390.2 L49.0,392.4 L50.2,394.5 L51.5,396.7 L52.7,398.8 L54.0,400.9 L55.2,402.9 L56.5,405.0 L57.7,407.0 L58.9,409.0 L60.2,410.9 L61.4,412.8 L62.7,414.7 L63.9,416.6 L65.2,418.4 L66.4,420.1 L67.7,421.9 L68.9,423.6 L70.2,425.2 L71.4,426.8 L72.7,428.3 L73.9,429.8 L75.2,431.2 L76.4,432.6 L77.6,433.9 L78.9,435.1 L80.1,436.3 L81.4,437.4 L82.6,438.4 L83.9,439.3 L85.1,440.2 L86.4,440.9 L87.6,441.6 L88.9,442.2 L90.1,442.6 L91.4,443.0 L92.6,443.2 L93.8,443.4 L95.1,443.4 L96.3,443.2 L97.6,442.9 L98.8,442.5 L100.1,441.9 L101.3,441.2 L102.6,440.3 L103.8,439.2 L105.1,437.9 L106.3,436.4 L107.6,434.8 L108.8,432.9 L110.1,430.7 L111.3,428.4 L112.5,425.7 L113.8,422.8 L115.0,419.7 L116.3,416.2 L117.5,412.4 L118.8,408.3 L120.0,403.9 L121.3,399.1 L122.5,393.9 L123.8,388.3 L125.0,382.3 L126.3,375.9 L127.5,369.0" fill="none" stroke="#fff000" stroke-width="1.3" stroke-linejoin="round" clip-path="url(#c0)"/>
<path d="M41.5,377.9 L42.7,380.2 L44.0,382.5 L45.2,384.7 L46.5,386.9 L47.7,389.1 L49.0,391.3 L50.2,393.5 L51.5,395.6 L52.7,397.8 L54.0,399.9 L55.2,401.9 L56.5,404.0 L57.7,406.0 L58.9,408.0 L60.2,409.9 L61.4,411.8 L62.7,413.7 L63.9,415.6 L65.2,417.4 L66.4,419.2 L67.7,420.9 L68.9,422.6 L70.2,424.2 L71.4,425.8 L72.7,427.3 L73.9,428.8 L75.2,430.2 L76.4,431.6 L77.6,432.9 L78.9,434.1 L80.1,435.3 L81.4,436.4 L82.6,437.4 L83.9,438.3 L85.1,439.2 L86.4,440.0 L87.6,440.6 L88.9,441.2 L90.1,441.7 L91.4,442.0 L92.6,442.3 L93.8,442.4 L95.1,442.4 L96.3,442.2 L97.6,442.0 L98.8,441.5 L100.1,441.0 L101.3,440.2 L102.6,439.3 L103.8,438.2 L105.1,436.9 L106.3,435.5 L107.6,433.8 L108.8,431.9 L110.1,429.7 L111.3,427.4 L112.5,424.7 L113.8,421.8 L115.0,418.7 L116.3,415.2 L117.5,411.4 L118.8,407.3 L120.0,402.9 L121.3,398.0 L122.5,392.9 L123.8,387.3 L125.0,381.3 L126.3,374.8 L127.5,367.9" fill="none" stroke="#ffd000" stroke-width="1.3" stroke-linejoin="round" clip-path="url(#c0)"/>
<path d="M41.5,376.9 L42.7,379.2 L44.0,381.4 L45.2,383.7 L46.5,385.9 L47.7,388.1 L49.0,390.3 L50.2,392.5 L51.5,394.6 L52.7,396.7 L54.0,398.8 L55.2,400.9 L56.5,403.0 L57.7,405.0 L58.9,407.0 L60.2,408.9 L61.4,410.8 L62.7,412.7 L63.9,414.6 L65.2,416.4 L66.4,418.2 L67.7,419.9 L68.9,421.6 L70.2,423.2 L71.4,424.8 L72.7,426.4 L73.9,427.8 L75.2,429.3 L76.4,430.6 L77.6,431.9 L78.9,433.2 L80.1,434.3 L81.4,435.4 L82.6,436.4 L83.9,437.4 L85.1,438.2 L86.4,439.0 L87.6,439.7 L88.9,440.2 L90.1,440.7 L91.4,441.1 L92.6,441.3 L93.8,441.4 L95.1,441.4 L96.3,441.3 L97.6,441.0 L98.8,440.6 L100.1,440.0 L101.3,439.2 L102.6,438.3 L103.8,437.2 L105.1,436.0 L106.3,434.5 L107.6,432.8 L108.8,430.9 L110.1,428.7 L111.3,426.4 L112.5,423.7 L113.8,420.8 L115.0,417.7 L116.3,414.2 L117.5,410.4 L118.8,406.3 L120.0,401.8 L121.3,397.0 L122.5,391.8 L123.8,386.2 L125.0,380.2 L126.3,373.8 L127.5,366.9" fill="none" stroke="#ffa000" stroke-width="1.2" stroke-linejoin="round" clip-path="url(#c0)"/>
<path d="M41.5,375.8 L42.7,378.1 L44.0,380.4 L45.2,382.6 L46.5,384.9 L47.7,387.1 L49.0,389.3 L50.2,391.4 L51.5,393.6 L52.7,395.7 L54.0,397.8 L55.2,399.9 L56.5,401.9 L57.7,404.0 L58.9,406.0 L60.2,407.9 L61.4,409.8 L62.7,411.7 L63.9,413.6 L65.2,415.4 L66.4,417.2 L67.7,418.9 L68.9,420.6 L70.2,422.2 L71.4,423.8 L72.7,425.4 L73.9,426.9 L75.2,428.3 L76.4,429.7 L77.6,431.0 L78.9,432.2 L80.1,433.4 L81.4,434.5 L82.6,435.5 L83.9,436.4 L85.1,437.3 L86.4,438.0 L87.6,438.7 L88.9,439.3 L90.1,439.7 L91.4,440.1 L92.6,440.3 L93.8,440.4 L95.1,440.4 L96.3,440.3 L97.6,440.0 L98.8,439.6 L100.1,439.0 L101.3,438.3 L102.6,437.3 L103.8,436.3 L105.1,435.0 L106.3,433.5 L107.6,431.8 L108.8,429.9 L110.1,427.7 L111.3,425.4 L112.5,422.7 L113.8,419.8 L115.0,416.7 L116.3,413.2 L117.5,409.4 L118.8,405.3 L120.0,400.8 L121.3,396.0 L122.5,390.8 L123.8,385.2 L125.0,379.2 L126.3,372.8 L127.5,365.9" fill="none" stroke="#ff5000" stroke-width="1.0" stroke-linejoin="round" clip-path="url(#c0)"/>
<path d="M41.5,375.2 L42.7,377.5 L44.0,379.7 L45.2,382.0 L46.5,384.2 L47.7,386.4 L49.0,388.6 L50.2,390.8 L51.5,393.0 L52.7,395.1 L54.0,397.2 L55.2,399.3 L56.5,401.3 L57.7,403.4 L58.9,405.4 L60.2,407.3 L61.4,409.2 L62.7,411.1 L63.9,413.0 L65.2,414.8 L66.4,416.6 L67.7,418.3 L68.9,420.0 L70.2,421.7 L71.4,423.2 L72.7,424.8 L73.9,426.3 L75.2,427.7 L76.4,429.1 L77.6,430.4 L78.9,431.6 L80.1,432.8 L81.4,433.9 L82.6,434.9 L83.9,435.8 L85.1,436.7 L86.4,437.4 L87.6,438.1 L88.9,438.7 L90.1,439.1 L91.4,439.5 L92.6,439.7 L93.8,439.9 L95.1,439.9 L96.3,439.7 L97.6,439.4 L98.8,439.0 L100.1,438.4 L101.3,437.7 L102.6,436.8 L103.8,435.7 L105.1,434.4 L106.3,432.9 L107.6,431.2 L108.8,429.3 L110.1,427.2 L111.3,424.8 L112.5,422.1 L113.8,419.2 L115.0,416.1 L116.3,412.6 L117.5,408.8 L118.8,404.7 L120.0,400.2 L121.3,395.4 L122.5,390.2 L123.8,384.6 L125.0,378.6 L126.3,372.2 L127.5,365.3" fill="none" stroke="#e00000" stroke-width="0.9" stroke-linejoin="round" clip-path="url(#c0)"/>
<path d="M41.5,374.2 L42.7,376.4 L44.0,378.7 L45.2,380.9 L46.4,383.1 L47.7,385.3 L48.9,387.5 L50.2,389.7 L51.4,391.8 L52.6,393.9 L53.9,396.0 L55.1,398.1 L56.3,400.1 L57.6,402.1 L58.8,404.1 L60.0,406.1 L61.3,408.0 L62.5,409.9 L63.8,411.7 L65.0,413.5 L66.2,415.3 L67.5,417.0 L68.7,418.7 L69.9,420.4 L71.2,422.0 L72.4,423.5 L73.6,425.0 L74.9,426.4 L76.1,427.8 L77.4,429.1 L78.6,430.3 L79.8,431.5 L81.1,432.6 L82.3,433.6 L83.5,434.6 L84.8,435.5 L86.0,436.3 L87.2,436.9 L88.5,437.5 L89.7,438.0 L91.0,438.4 L92.2,438.7 L93.4,438.9 L94.7,438.9 L95.9,438.8 L97.1,438.6 L98.4,438.2 L99.6,437.8 L100.8,437.2 L102.1,436.5 L103.3,435.7 L104.6,434.7 L105.8,433.6 L107.0,432.3 L108.3,430.8 L109.5,429.1" fill="none" stroke="#202020" stroke-width="0.9" clip-path="url(#c0)"/>
<path d="M174.5,398.5 L175.6,400.7 L176.7,402.8 L177.8,404.9 L178.9,407.0 L180.0,409.0 L181.1,411.1 L182.2,413.1 L183.2,415.1 L184.3,417.1 L185.4,419.1 L186.5,421.0 L187.6,422.9 L188.7,424.8 L189.8,426.7 L190.9,428.6 L192.0,430.4 L193.1,432.2 L194.2,434.0 L195.3,435.7 L196.4,437.4 L197.5,439.1 L198.6,440.7 L199.7,442.3 L200.7,443.9 L201.8,445.4 L202.9,446.9 L204.0,448.4 L205.1,449.8 L206.2,451.2 L207.3,452.5 L208.4,453.8 L209.5,455.0 L210.6,456.2 L211.7,457.3 L212.8,458.4 L213.9,459.4 L215.0,460.4 L216.1,461.3 L217.2,462.1 L218.2,462.9 L219.3,463.6 L220.4,464.2 L221.5,464.8 L222.6,465.3 L223.7,465.7 L224.8,466.0 L225.9,466.2 L227.0,466.4 L228.1,466.4 L229.2,466.4 L230.3,466.2 L231.4,466.0 L232.5,465.6 L233.6,465.1 L234.7,464.5 L235.7,463.8 L236.8,463.0 L237.9,462.0 L239.0,460.9 L240.1,459.7 L241.2,458.3 L242.3,456.7 L243.4,455.0 L244.5,453.2 L245.6,451.1 L246.7,448.9 L247.8,446.5 L248.9,443.9 L250.0,441.1 L251.1,438.1 L252.2,434.8 L253.2,431.4 L254.3,427.7 L255.4,423.8 L256.5,419.6 L257.6,415.2 L258.7,410.5 L259.8,405.5 L260.9,400.2" fill="none" stroke="#0000fa" stroke-width="0.85" clip-path="url(#c1)"/>
<path d="M174.5,395.1 L175.6,397.3 L176.7,399.4 L177.8,401.5 L178.9,403.6 L180.0,405.7 L181.1,407.8 L182.2,409.8 L183.2,411.8 L184.3,413.8 L185.4,415.8 L186.5,417.8 L187.6,419.7 L188.7,421.7 L189.8,423.6 L190.9,425.4 L192.0,427.3 L193.1,429.1 L194.2,430.9 L195.3,432.7 L196.4,434.4 L197.5,436.1 L198.6,437.8 L199.7,439.4 L200.7,441.0 L201.8,442.6 L202.9,444.1 L204.0,445.6 L205.1,447.0 L206.2,448.4 L207.3,449.8 L208.4,451.1 L209.5,452.3 L210.6,453.6 L211.7,454.7 L212.8,455.8 L213.9,456.9 L215.0,457.9 L216.1,458.8 L217.2,459.7 L218.2,460.5 L219.3,461.2 L220.4,461.9 L221.5,462.5 L222.6,463.0 L223.7,463.4 L224.8,463.7 L225.9,464.0 L227.0,464.2 L228.1,464.2 L229.2,464.1 L230.3,464.0 L231.4,463.7 L232.5,463.3 L233.6,462.7 L234.7,462.1 L235.7,461.4 L236.8,460.5 L237.9,459.5 L239.0,458.3 L240.1,457.0 L241.2,455.6 L242.3,454.0 L243.4,452.3 L244.5,450.3 L245.6,448.3 L246.7,446.0 L247.8,443.5 L248.9,440.9 L250.0,438.1 L251.1,435.0 L252.2,431.8 L253.2,428.3 L254.3,424.6 L255.4,420.6 L256.5,416.4 L257.6,411.9 L258.7,407.2 L259.8,402.2 L260.9,396.8" fill="none" stroke="#0015ff" stroke-width="0.85" clip-path="url(#c1)"/>
<path d="M174.5,391.9 L175.6,394.1 L176.7,396.2 L177.8,398.4 L178.9,400.5 L180.0,402.6 L181.1,404.7 L182.2,406.7 L183.2,408.8 L184.3,410.8 L185.4,412.8 L186.5,414.8 L187.6,416.7 L188.7,418.7 L189.8,420.6 L190.9,422.5 L192.0,424.4 L193.1,426.2 L194.2,428.0 L195.3,429.8 L196.4,431.5 L197.5,433.3 L198.6,434.9 L199.7,436.6 L200.7,438.2 L201.8,439.8 L202.9,441.3 L204.0,442.9 L205.1,444.3 L206.2,445.7 L207.3,447.1 L208.4,448.5 L209.5,449.7 L210.6,451.0 L211.7,452.2 L212.8,453.3 L213.9,454.4 L215.0,455.4 L216.1,456.3 L217.2,457.2 L218.2,458.1 L219.3,458.8 L220.4,459.5 L221.5,460.1 L222.6,460.7 L223.7,461.1 L224.8,461.5 L225.9,461.8 L227.0,462.0 L228.1,462.0 L229.2,461.9 L230.3,461.7 L231.4,461.4 L232.5,460.9 L233.6,460.4 L234.7,459.7 L235.7,458.9 L236.8,458.0 L237.9,456.9 L239.0,455.7 L240.1,454.4 L241.2,453.0 L242.3,451.3 L243.4,449.5 L244.5,447.6 L245.6,445.5 L246.7,443.2 L247.8,440.7 L248.9,438.0 L250.0,435.2 L251.1,432.1 L252.2,428.8 L253.2,425.3 L254.3,421.5 L255.4,417.5 L256.5,413.3 L257.6,408.8 L258.7,404.0 L259.8,399.0 L260.9,393.6" fill="none" stroke="#002fff" stroke-width="0.85" clip-path="url(#c1)"/>
<path d="M174.5,389.0 L175.6,391.2 L176.7,393.3 L177.8,395.5 L178.9,397.6 L180.0,399.7 L181.1,401.8 L182.2,403.9 L183.2,405.9 L184.3,407.9 L185.4,410.0 L186.5,412.0 L187.6,413.9 L188.7,415.9 L189.8,417.8 L190.9,419.7 L192.0,421.6 L193.1,423.4 L194.2,425.3 L195.3,427.0 L196.4,428.8 L197.5,430.5 L198.6,432.2 L199.7,433.9 L200.7,435.6 L201.8,437.1 L202.9,438.7 L204.0,440.2 L205.1,441.7 L206.2,443.2 L207.3,444.6 L208.4,445.9 L209.5,447.2 L210.6,448.5 L211.7,449.7 L212.8,450.8 L213.9,451.9 L215.0,452.9 L216.1,453.9 L217.2,454.8 L218.2,455.7 L219.3,456.5 L220.4,457.2 L221.5,457.8 L222.6,458.4 L223.7,458.9 L224.8,459.3 L225.9,459.6 L227.0,459.8 L228.1,459.9 L229.2,459.7 L230.3,459.4 L231.4,459.1 L232.5,458.6 L233.6,458.0 L234.7,457.3 L235.7,456.5 L236.8,455.5 L237.9,454.4 L239.0,453.2 L240.1,451.9 L241.2,450.4 L242.3,448.7 L243.4,446.9 L244.5,444.9 L245.6,442.8 L246.7,440.5 L247.8,438.0 L248.9,435.3 L250.0,432.4 L251.1,429.3 L252.2,425.9 L253.2,422.4 L254.3,418.6 L255.4,414.6 L256.5,410.4 L257.6,405.8 L258.7,401.1 L259.8,396.0 L260.9,390.6" fill="none" stroke="#0049ff" stroke-width="0.85" clip-path="url(#c1)"/>
<path d="M174.5,386.4 L175.6,388.5 L176.7,390.7 L177.8,392.8 L178.9,395.0 L180.0,397.1 L181.1,399.2 L182.2,401.2 L183.2,403.3 L184.3,405.3 L185.4,407.3 L186.5,409.3 L187.6,411.3 L188.7,413.3 L189.8,415.2 L190.9,417.1 L192.0,419.0 L193.1,420.8 L194.2,422.7 L195.3,424.5 L196.4,426.2 L197.5,428.0 L198.6,429.7 L199.7,431.4 L200.7,433.0 L201.8,434.6 L202.9,436.2 L204.0,437.7 L205.1,439.2 L206.2,440.7 L207.3,442.1 L208.4,443.4 L209.5,444.8 L210.6,446.0 L211.7,447.2 L212.8,448.4 L213.9,449.5 L215.0,450.6 L216.1,451.6 L217.2,452.5 L218.2,453.4 L219.3,454.2 L220.4,454.9 L221.5,455.5 L222.6,456.1 L223.7,456.6 L224.8,457.1 L225.9,457.4 L227.0,457.7 L228.1,457.7 L229.2,457.5 L230.3,457.2 L231.4,456.8 L232.5,456.3 L233.6,455.7 L234.7,454.9 L235.7,454.1 L236.8,453.1 L237.9,452.0 L239.0,450.8 L240.1,449.4 L241.2,447.9 L242.3,446.2 L243.4,444.3 L244.5,442.3 L245.6,440.2 L246.7,437.8 L247.8,435.3 L248.9,432.6 L250.0,429.7 L251.1,426.5 L252.2,423.2 L253.2,419.7 L254.3,415.9 L255.4,411.8 L256.5,407.6 L257.6,403.0 L258.7,398.2 L259.8,393.2 L260.9,387.8" fill="none" stroke="#0063ff" stroke-width="0.85" clip-path="url(#c1)"/>
<path d="M174.5,384.0 L175.6,386.2 L176.7,388.3 L177.8,390.4 L178.9,392.6 L180.0,394.7 L181.1,396.8 L182.2,398.8 L183.2,400.9 L184.3,402.9 L185.4,404.9 L186.5,406.9 L187.6,408.9 L188.7,410.8 L189.8,412.8 L190.9,414.7 L192.0,416.6 L193.1,418.4 L194.2,420.2 L195.3,422.0 L196.4,423.8 L197.5,425.6 L198.6,427.3 L199.7,429.0 L200.7,430.6 L201.8,432.2 L202.9,433.8 L204.0,435.3 L205.1,436.8 L206.2,438.3 L207.3,439.7 L208.4,441.1 L209.5,442.4 L210.6,443.7 L211.7,444.9 L212.8,446.1 L213.9,447.2 L215.0,448.2 L216.1,449.2 L217.2,450.2 L218.2,451.1 L219.3,451.9 L220.4,452.6 L221.5,453.3 L222.6,453.9 L223.7,454.4 L224.8,454.9 L225.9,455.2 L227.0,455.5 L228.1,455.5 L229.2,455.3 L230.3,455.0 L231.4,454.5 L232.5,454.0 L233.6,453.4 L234.7,452.6 L235.7,451.8 L236.8,450.8 L237.9,449.6 L239.0,448.4 L240.1,447.0 L241.2,445.4 L242.3,443.7 L243.4,441.9 L244.5,439.8 L245.6,437.7 L246.7,435.3 L247.8,432.8 L248.9,430.0 L250.0,427.1 L251.1,424.0 L252.2,420.6 L253.2,417.1 L254.3,413.3 L255.4,409.2 L256.5,404.9 L257.6,400.4 L258.7,395.6 L259.8,390.5 L260.9,385.1" fill="none" stroke="#007dff" stroke-width="0.85" clip-path="url(#c1)"/>
<path d="M174.5,381.9 L175.6,384.1 L176.7,386.2 L177.8,388.3 L178.9,390.4 L180.0,392.5 L181.1,394.6 L182.2,396.7 L183.2,398.7 L184.3,400.7 L185.4,402.7 L186.5,404.7 L187.6,406.7 L188.7,408.6 L189.8,410.6 L190.9,412.5 L192.0,414.3 L193.1,416.2 L194.2,418.0 L195.3,419.8 L196.4,421.6 L197.5,423.3 L198.6,425.0 L199.7,426.7 L200.7,428.3 L201.8,430.0 L202.9,431.5 L204.0,433.1 L205.1,434.6 L206.2,436.0 L207.3,437.4 L208.4,438.8 L209.5,440.1 L210.6,441.4 L211.7,442.6 L212.8,443.8 L213.9,444.9 L215.0,446.0 L216.1,447.0 L217.2,447.9 L218.2,448.8 L219.3,449.6 L220.4,450.4 L221.5,451.1 L222.6,451.7 L223.7,452.2 L224.8,452.7 L225.9,453.0 L227.0,453.3 L228.1,453.3 L229.2,453.1 L230.3,452.8 L231.4,452.3 L232.5,451.8 L233.6,451.1 L234.7,450.3 L235.7,449.5 L236.8,448.4 L237.9,447.3 L239.0,446.0 L240.1,444.6 L241.2,443.0 L242.3,441.3 L243.4,439.5 L244.5,437.4 L245.6,435.3 L246.7,432.9 L247.8,430.3 L248.9,427.6 L250.0,424.7 L251.1,421.5 L252.2,418.2 L253.2,414.6 L254.3,410.8 L255.4,406.8 L256.5,402.5 L257.6,397.9 L258.7,393.1 L259.8,388.0 L260.9,382.7" fill="none" stroke="#0097ff" stroke-width="0.85" clip-path="url(#c1)"/>
<path d="M174.5,380.1 L175.6,382.2 L176.7,384.3 L177.8,386.5 L178.9,388.5 L180.0,390.6 L181.1,392.7 L182.2,394.7 L183.2,396.8 L184.3,398.8 L185.4,400.8 L186.5,402.8 L187.6,404.7 L188.7,406.6 L189.8,408.6 L190.9,410.4 L192.0,412.3 L193.1,414.1 L194.2,416.0 L195.3,417.7 L196.4,419.5 L197.5,421.2 L198.6,422.9 L199.7,424.6 L200.7,426.2 L201.8,427.8 L202.9,429.4 L204.0,430.9 L205.1,432.4 L206.2,433.9 L207.3,435.3 L208.4,436.6 L209.5,438.0 L210.6,439.2 L211.7,440.5 L212.8,441.6 L213.9,442.7 L215.0,443.8 L216.1,444.8 L217.2,445.8 L218.2,446.6 L219.3,447.5 L220.4,448.2 L221.5,448.9 L222.6,449.5 L223.7,450.0 L224.8,450.5 L225.9,450.9 L227.0,451.2 L228.1,451.2 L229.2,450.9 L230.3,450.6 L231.4,450.1 L232.5,449.5 L233.6,448.9 L234.7,448.1 L235.7,447.2 L236.8,446.2 L237.9,445.0 L239.0,443.7 L240.1,442.3 L241.2,440.8 L242.3,439.1 L243.4,437.2 L244.5,435.2 L245.6,433.0 L246.7,430.6 L247.8,428.0 L248.9,425.3 L250.0,422.4 L251.1,419.2 L252.2,415.9 L253.2,412.3 L254.3,408.5 L255.4,404.5 L256.5,400.2 L257.6,395.7 L258.7,390.9 L259.8,385.8 L260.9,380.4" fill="none" stroke="#00b1ff" stroke-width="0.85" clip-path="url(#c1)"/>
<path d="M174.5,378.5 L175.6,380.7 L176.7,382.8 L177.8,384.9 L178.9,386.9 L180.0,389.0 L181.1,391.1 L182.2,393.1 L183.2,395.1 L184.3,397.1 L185.4,399.1 L186.5,401.0 L187.6,403.0 L188.7,404.9 L189.8,406.8 L190.9,408.6 L192.0,410.5 L193.1,412.3 L194.2,414.1 L195.3,415.9 L196.4,417.6 L197.5,419.3 L198.6,421.0 L199.7,422.7 L200.7,424.3 L201.8,425.9 L202.9,427.4 L204.0,429.0 L205.1,430.4 L206.2,431.9 L207.3,433.3 L208.4,434.6 L209.5,435.9 L210.6,437.2 L211.7,438.4 L212.8,439.5 L213.9,440.7 L215.0,441.7 L216.1,442.7 L217.2,443.6 L218.2,444.5 L219.3,445.3 L220.4,446.1 L221.5,446.8 L222.6,447.4 L223.7,447.9 L224.8,448.3 L225.9,448.7 L227.0,449.0 L228.1,449.0 L229.2,448.7 L230.3,448.4 L231.4,447.9 L232.5,447.4 L233.6,446.7 L234.7,445.9 L235.7,445.0 L236.8,444.0 L237.9,442.8 L239.0,441.6 L240.1,440.1 L241.2,438.6 L242.3,436.9 L243.4,435.0 L244.5,433.0 L245.6,430.8 L246.7,428.4 L247.8,425.9 L248.9,423.1 L250.0,420.2 L251.1,417.1 L252.2,413.8 L253.2,410.2 L254.3,406.4 L255.4,402.4 L256.5,398.1 L257.6,393.6 L258.7,388.8 L259.8,383.7 L260.9,378.4" fill="none" stroke="#00cbff" stroke-width="0.85" clip-path="url(#c1)"/>
<path d="M174.5,377.3 L175.6,379.4 L176.7,381.5 L177.8,383.6 L178.9,385.6 L180.0,387.7 L181.1,389.7 L182.2,391.7 L183.2,393.7 L184.3,395.7 L185.4,397.6 L186.5,399.6 L187.6,401.5 L188.7,403.4 L189.8,405.2 L190.9,407.1 L192.0,408.9 L193.1,410.7 L194.2,412.5 L195.3,414.3 L196.4,416.0 L197.5,417.7 L198.6,419.3 L199.7,421.0 L200.7,422.6 L201.8,424.1 L202.9,425.7 L204.0,427.2 L205.1,428.6 L206.2,430.0 L207.3,431.4 L208.4,432.7 L209.5,434.0 L210.6,435.3 L211.7,436.4 L212.8,437.6 L213.9,438.7 L215.0,439.7 L216.1,440.7 L217.2,441.6 L218.2,442.5 L219.3,443.3 L220.4,444.0 L221.5,444.7 L222.6,445.3 L223.7,445.8 L224.8,446.2 L225.9,446.6 L227.0,446.8 L228.1,446.8 L229.2,446.6 L230.3,446.2 L231.4,445.8 L232.5,445.2 L233.6,444.6 L234.7,443.8 L235.7,442.9 L236.8,441.9 L237.9,440.7 L239.0,439.5 L240.1,438.1 L241.2,436.5 L242.3,434.8 L243.4,433.0 L244.5,430.9 L245.6,428.8 L246.7,426.4 L247.8,423.9 L248.9,421.2 L250.0,418.3 L251.1,415.2 L252.2,411.8 L253.2,408.3 L254.3,404.5 L255.4,400.5 L256.5,396.3 L257.6,391.8 L258.7,387.0 L259.8,382.0 L260.9,376.6" fill="none" stroke="#00e5ff" stroke-width="0.85" clip-path="url(#c1)"/>
<path d="M174.5,376.3 L175.6,378.4 L176.7,380.5 L177.8,382.5 L178.9,384.6 L180.0,386.6 L181.1,388.6 L182.2,390.6 L183.2,392.6 L184.3,394.5 L185.4,396.4 L186.5,398.4 L187.6,400.3 L188.7,402.1 L189.8,404.0 L190.9,405.8 L192.0,407.6 L193.1,409.4 L194.2,411.1 L195.3,412.9 L196.4,414.6 L197.5,416.2 L198.6,417.9 L199.7,419.5 L200.7,421.0 L201.8,422.6 L202.9,424.1 L204.0,425.6 L205.1,427.0 L206.2,428.4 L207.3,429.7 L208.4,431.0 L209.5,432.3 L210.6,433.5 L211.7,434.7 L212.8,435.8 L213.9,436.8 L215.0,437.8 L216.1,438.8 L217.2,439.7 L218.2,440.5 L219.3,441.3 L220.4,442.0 L221.5,442.6 L222.6,443.2 L223.7,443.7 L224.8,444.1 L225.9,444.4 L227.0,444.7 L228.1,444.7 L229.2,444.4 L230.3,444.1 L231.4,443.7 L232.5,443.1 L233.6,442.5 L234.7,441.7 L235.7,440.9 L236.8,439.9 L237.9,438.7 L239.0,437.5 L240.1,436.1 L241.2,434.6 L242.3,432.9 L243.4,431.1 L244.5,429.1 L245.6,426.9 L246.7,424.6 L247.8,422.1 L248.9,419.4 L250.0,416.5 L251.1,413.4 L252.2,410.1 L253.2,406.6 L254.3,402.9 L255.4,398.9 L256.5,394.7 L257.6,390.2 L258.7,385.4 L259.8,380.4 L260.9,375.1" fill="none" stroke="#00ffff" stroke-width="0.85" clip-path="url(#c1)"/>
<path d="M174.5,375.7 L175.6,377.7 L176.7,379.8 L177.8,381.8 L178.9,383.8 L180.0,385.8 L181.1,387.8 L182.2,389.8 L183.2,391.7 L184.3,393.7 L185.4,395.6 L186.5,397.5 L187.6,399.3 L188.7,401.2 L189.8,403.0 L190.9,404.8 L192.0,406.6 L193.1,408.3 L194.2,410.1 L195.3,411.8 L196.4,413.4 L197.5,415.1 L198.6,416.7 L199.7,418.3 L200.7,419.8 L201.8,421.3 L202.9,422.8 L204.0,424.2 L205.1,425.6 L206.2,427.0 L207.3,428.3 L208.4,429.5 L209.5,430.8 L210.6,431.9 L211.7,433.1 L212.8,434.1 L213.9,435.2 L215.0,436.1 L216.1,437.1 L217.2,437.9 L218.2,438.7 L219.3,439.4 L220.4,440.1 L221.5,440.7 L222.6,441.2 L223.7,441.7 L224.8,442.0 L225.9,442.3 L227.0,442.5 L228.1,442.5 L229.2,442.3 L230.3,442.0 L231.4,441.6 L232.5,441.1 L233.6,440.5 L234.7,439.8 L235.7,438.9 L236.8,438.0 L237.9,436.9 L239.0,435.7 L240.1,434.3 L241.2,432.8 L242.3,431.2 L243.4,429.4 L244.5,427.4 L245.6,425.3 L246.7,423.0 L247.8,420.6 L248.9,417.9 L250.0,415.0 L251.1,412.0 L252.2,408.7 L253.2,405.2 L254.3,401.5 L255.4,397.6 L256.5,393.4 L257.6,388.9 L258.7,384.2 L259.8,379.2 L260.9,374.0" fill="none" stroke="#1affe5" stroke-width="0.85" clip-path="url(#c1)"/>
<path d="M174.5,375.5 L175.6,377.5 L176.7,379.6 L177.8,381.6 L178.9,383.6 L180.0,385.6 L181.1,387.6 L182.2,389.5 L183.2,391.5 L184.3,393.4 L185.4,395.3 L186.5,397.2 L187.6,399.0 L188.7,400.9 L189.8,402.7 L190.9,404.5 L192.0,406.2 L193.1,408.0 L194.2,409.7 L195.3,411.4 L196.4,413.0 L197.5,414.6 L198.6,416.2 L199.7,417.8 L200.7,419.3 L201.8,420.8 L202.9,422.2 L204.0,423.7 L205.1,425.0 L206.2,426.4 L207.3,427.7 L208.4,428.9 L209.5,430.1 L210.6,431.3 L211.7,432.4 L212.8,433.4 L213.9,434.4 L215.0,435.4 L216.1,436.3 L217.2,437.1 L218.2,437.9 L219.3,438.6 L220.4,439.2 L221.5,439.8 L222.6,440.3 L223.7,440.7 L224.8,441.0 L225.9,441.3 L227.0,441.5 L228.1,441.5 L229.2,441.3 L230.3,441.0 L231.4,440.6 L232.5,440.2 L233.6,439.6 L234.7,438.9 L235.7,438.1 L236.8,437.1 L237.9,436.1 L239.0,434.9 L240.1,433.5 L241.2,432.1 L242.3,430.4 L243.4,428.7 L244.5,426.7 L245.6,424.6 L246.7,422.4 L247.8,419.9 L248.9,417.3 L250.0,414.4 L251.1,411.4 L252.2,408.2 L253.2,404.7 L254.3,401.0 L255.4,397.1 L256.5,392.9 L257.6,388.5 L258.7,383.8 L259.8,378.8 L260.9,373.5" fill="none" stroke="#60ff90" stroke-width="0.8" clip-path="url(#c1)"/>
<path d="M174.5,375.4 L175.6,377.4 L176.7,379.5 L177.8,381.5 L178.9,383.5 L180.0,385.5 L181.1,387.4 L182.2,389.4 L183.2,391.3 L184.3,393.2 L185.4,395.1 L186.5,397.0 L187.6,398.9 L188.7,400.7 L189.8,402.5 L190.9,404.3 L192.0,406.0 L193.1,407.8 L194.2,409.5 L195.3,411.1 L196.4,412.8 L197.5,414.4 L198.6,416.0 L199.7,417.5 L200.7,419.0 L201.8,420.5 L202.9,421.9 L204.0,423.3 L205.1,424.7 L206.2,426.0 L207.3,427.3 L208.4,428.5 L209.5,429.7 L210.6,430.8 L211.7,431.9 L212.8,433.0 L213.9,433.9 L215.0,434.9 L216.1,435.7 L217.2,436.6 L218.2,437.3 L219.3,438.0 L220.4,438.6 L221.5,439.1 L222.6,439.6 L223.7,440.0 L224.8,440.3 L225.9,440.5 L227.0,440.7 L228.1,440.7 L229.2,440.5 L230.3,440.3 L231.4,439.9 L232.5,439.5 L233.6,438.9 L234.7,438.2 L235.7,437.4 L236.8,436.5 L237.9,435.5 L239.0,434.3 L240.1,433.0 L241.2,431.6 L242.3,430.0 L243.4,428.2 L244.5,426.3 L245.6,424.2 L246.7,421.9 L247.8,419.5 L248.9,416.9 L250.0,414.1 L251.1,411.0 L252.2,407.8 L253.2,404.4 L254.3,400.7 L255.4,396.8 L256.5,392.6 L257.6,388.2 L258.7,383.5 L259.8,378.5 L260.9,373.3" fill="none" stroke="#c0ff30" stroke-width="0.8" clip-path="url(#c1)"/>
<path d="M174.5,375.3 L175.6,377.4 L176.7,379.4 L177.8,381.4 L178.9,383.4 L180.0,385.4 L181.1,387.4 L182.2,389.3 L183.2,391.3 L184.3,393.2 L185.4,395.1 L186.5,396.9 L187.6,398.8 L188.7,400.6 L189.8,402.4 L190.9,404.2 L192.0,405.9 L193.1,407.7 L194.2,409.3 L195.3,411.0 L196.4,412.6 L197.5,414.3 L198.6,415.8 L199.7,417.4 L200.7,418.9 L201.8,420.3 L202.9,421.8 L204.0,423.2 L205.1,424.5 L206.2,425.8 L207.3,427.1 L208.4,428.3 L209.5,429.5 L210.6,430.6 L211.7,431.7 L212.8,432.7 L213.9,433.7 L215.0,434.6 L216.1,435.4 L217.2,436.2 L218.2,436.9 L219.3,437.6 L220.4,438.2 L221.5,438.7 L222.6,439.2 L223.7,439.5 L224.8,439.8 L225.9,440.0 L227.0,440.2 L228.1,440.2 L229.2,440.0 L230.3,439.8 L231.4,439.5 L232.5,439.0 L233.6,438.5 L234.7,437.8 L235.7,437.1 L236.8,436.2 L237.9,435.2 L239.0,434.0 L240.1,432.7 L241.2,431.3 L242.3,429.7 L243.4,427.9 L244.5,426.0 L245.6,424.0 L246.7,421.7 L247.8,419.3 L248.9,416.7 L250.0,413.9 L251.1,410.9 L252.2,407.6 L253.2,404.2 L254.3,400.5 L255.4,396.6 L256.5,392.4 L257.6,388.0 L258.7,383.4 L259.8,378.4 L260.9,373.2" fill="none" stroke="#ffd000" stroke-width="0.8" clip-path="url(#c1)"/>
<path d="M174.5,375.3 L175.8,377.7 L177.0,380.0 L178.3,382.3 L179.5,384.6 L180.8,386.8 L182.0,389.1 L183.3,391.3 L184.5,393.5 L185.8,395.6 L187.0,397.7 L188.3,399.8 L189.5,401.9 L190.8,403.9 L192.0,405.9 L193.3,407.9 L194.5,409.8 L195.8,411.7 L197.0,413.6 L198.3,415.4 L199.5,417.1 L200.8,418.8 L202.0,420.5 L203.3,422.1 L204.6,423.7 L205.8,425.2 L207.1,426.7 L208.3,428.1 L209.6,429.4 L210.8,430.7 L212.1,431.9 L213.3,433.0 L214.6,434.0 L215.8,435.0 L217.1,435.9 L218.3,436.7 L219.6,437.4 L220.8,438.1 L222.1,438.6 L223.3,439.0 L224.6,439.3 L225.8,439.6 L227.1,439.7 L228.3,439.6 L229.6,439.5 L230.8,439.2 L232.1,438.8 L233.4,438.2 L234.6,437.5 L235.9,436.7 L237.1,435.6 L238.4,434.5 L239.6,433.1 L240.9,431.5 L242.1,429.8 L243.4,427.8 L244.6,425.6 L245.9,423.2 L247.1,420.6 L248.4,417.7 L249.6,414.6 L250.9,411.2 L252.1,407.6 L253.4,403.6 L254.6,399.4 L255.9,394.8 L257.1,389.9 L258.4,384.7 L259.6,379.1 L260.9,373.1" fill="none" stroke="#4a1500" stroke-width="1.1" stroke-linejoin="round" clip-path="url(#c1)"/>
<path d="M313.5,383.8 L314.8,386.9 L316.0,390.1 L317.3,393.1 L318.5,396.2 L319.8,399.2 L321.1,402.1 L322.3,405.1 L323.6,407.9 L324.8,410.8 L326.1,413.6 L327.4,416.3 L328.6,419.1 L329.9,421.7 L331.2,424.3 L332.4,426.9 L333.7,429.4 L334.9,431.8 L336.2,434.2 L337.5,436.5 L338.7,438.8 L340.0,441.0 L341.2,443.1 L342.5,445.2 L343.8,447.1 L345.0,449.1 L346.3,450.9 L347.5,452.6 L348.8,454.3 L350.1,455.8 L351.3,457.3 L352.6,458.7 L353.8,460.0 L355.1,461.1 L356.4,462.2 L357.6,463.1 L358.9,464.0 L360.2,464.7 L361.4,465.3 L362.7,465.7 L363.9,466.1 L365.2,466.2 L366.5,466.3 L367.7,466.2 L369.0,465.9 L370.2,465.4 L371.5,464.8 L372.8,464.1 L374.0,463.1 L375.3,461.9 L376.5,460.6 L377.8,459.0 L379.1,457.2 L380.3,455.2 L381.6,453.0 L382.8,450.6 L384.1,447.8 L385.4,444.9 L386.6,441.6 L387.9,438.1 L389.2,434.3 L390.4,430.2 L391.7,425.8 L392.9,421.1 L394.2,416.0 L395.5,410.6 L396.7,404.8 L398.0,398.7 L399.2,392.1 L400.5,385.2" fill="none" stroke="#2a3a3a" stroke-width="1.0" stroke-linejoin="round" clip-path="url(#c2)"/>
<path d="M313.5,383.5 L314.8,386.7 L316.0,389.8 L317.3,392.8 L318.5,395.8 L319.8,398.8 L321.1,401.8 L322.3,404.7 L323.6,407.6 L324.8,410.4 L326.1,413.2 L327.4,416.0 L328.6,418.7 L329.9,421.3 L331.2,423.9 L332.4,426.5 L333.7,429.0 L334.9,431.4 L336.2,433.8 L337.5,436.1 L338.7,438.3 L340.0,440.5 L341.2,442.6 L342.5,444.7 L343.8,446.7 L345.0,448.5 L346.3,450.4 L347.5,452.1 L348.8,453.7 L350.1,455.3 L351.3,456.8 L352.6,458.1 L353.8,459.4 L355.1,460.5 L356.4,461.6 L357.6,462.5 L358.9,463.4 L360.2,464.1 L361.4,464.6 L362.7,465.1 L363.9,465.4 L365.2,465.6 L366.5,465.6 L367.7,465.4 L369.0,465.2 L370.2,464.7 L371.5,464.1 L372.8,463.3 L374.0,462.3 L375.3,461.1 L376.5,459.7 L377.8,458.1 L379.1,456.3 L380.3,454.3 L381.6,452.1 L382.8,449.6 L384.1,446.8 L385.4,443.8 L386.6,440.5 L387.9,437.0 L389.2,433.1 L390.4,429.0 L391.7,424.5 L392.9,419.7 L394.2,414.6 L395.5,409.1 L396.7,403.3 L398.0,397.1 L399.2,390.4 L400.5,383.4" fill="none" stroke="#d02000" stroke-width="1.0" stroke-linejoin="round" clip-path="url(#c2)"/>
<path d="M313.5,383.2 L314.8,386.4 L316.0,389.5 L317.3,392.5 L318.5,395.5 L319.8,398.5 L321.1,401.5 L322.3,404.4 L323.6,407.2 L324.8,410.1 L326.1,412.8 L327.4,415.6 L328.6,418.3 L329.9,420.9 L331.2,423.5 L332.4,426.0 L333.7,428.5 L334.9,431.0 L336.2,433.3 L337.5,435.6 L338.7,437.9 L340.0,440.1 L341.2,442.2 L342.5,444.2 L343.8,446.2 L345.0,448.0 L346.3,449.9 L347.5,451.6 L348.8,453.2 L350.1,454.8 L351.3,456.2 L352.6,457.6 L353.8,458.8 L355.1,460.0 L356.4,461.0 L357.6,461.9 L358.9,462.8 L360.2,463.4 L361.4,464.0 L362.7,464.4 L363.9,464.7 L365.2,464.9 L366.5,464.9 L367.7,464.7 L369.0,464.4 L370.2,464.0 L371.5,463.3 L372.8,462.5 L374.0,461.5 L375.3,460.3 L376.5,458.9 L377.8,457.3 L379.1,455.5 L380.3,453.4 L381.6,451.1 L382.8,448.6 L384.1,445.8 L385.4,442.8 L386.6,439.5 L387.9,435.9 L389.2,432.0 L390.4,427.8 L391.7,423.3 L392.9,418.4 L394.2,413.2 L395.5,407.7 L396.7,401.8 L398.0,395.5 L399.2,388.8 L400.5,381.7" fill="none" stroke="#3a9a8a" stroke-width="1.0" stroke-linejoin="round" clip-path="url(#c2)"/>
<path d="M313.5,383.0 L314.8,386.1 L316.0,389.2 L317.3,392.2 L318.5,395.2 L319.8,398.2 L321.1,401.1 L322.3,404.0 L323.6,406.9 L324.8,409.7 L326.1,412.5 L327.4,415.2 L328.6,417.9 L329.9,420.5 L331.2,423.1 L332.4,425.6 L333.7,428.1 L334.9,430.5 L336.2,432.9 L337.5,435.2 L338.7,437.4 L340.0,439.6 L341.2,441.7 L342.5,443.7 L343.8,445.7 L345.0,447.6 L346.3,449.3 L347.5,451.1 L348.8,452.7 L350.1,454.2 L351.3,455.7 L352.6,457.0 L353.8,458.3 L355.1,459.4 L356.4,460.4 L357.6,461.4 L358.9,462.2 L360.2,462.8 L361.4,463.4 L362.7,463.8 L363.9,464.1 L365.2,464.2 L366.5,464.2 L367.7,464.1 L369.0,463.7 L370.2,463.3 L371.5,462.6 L372.8,461.7 L374.0,460.7 L375.3,459.5 L376.5,458.1 L377.8,456.4 L379.1,454.6 L380.3,452.5 L381.6,450.2 L382.8,447.6 L384.1,444.8 L385.4,441.7 L386.6,438.4 L387.9,434.8 L389.2,430.8 L390.4,426.6 L391.7,422.0 L392.9,417.1 L394.2,411.9 L395.5,406.3 L396.7,400.3 L398.0,393.9 L399.2,387.2 L400.5,380.0" fill="none" stroke="#e0c000" stroke-width="0.9" stroke-linejoin="round" clip-path="url(#c2)"/>
<path d="M313.5,381.9 L314.8,385.0 L316.0,388.1 L317.3,391.1 L318.5,394.1 L319.8,397.0 L321.1,399.9 L322.3,402.8 L323.6,405.6 L324.8,408.4 L326.1,411.1 L327.4,413.8 L328.6,416.5 L329.9,419.1 L331.2,421.6 L332.4,424.1 L333.7,426.6 L334.9,429.0 L336.2,431.3 L337.5,433.6 L338.7,435.8 L340.0,437.9 L341.2,440.0 L342.5,442.0 L343.8,443.9 L345.0,445.8 L346.3,447.6 L347.5,449.2 L348.8,450.8 L350.1,452.4 L351.3,453.8 L352.6,455.1 L353.8,456.3 L355.1,457.4 L356.4,458.4 L357.6,459.3 L358.9,460.1 L360.2,460.7 L361.4,461.2 L362.7,461.6 L363.9,461.8 L365.2,461.9 L366.5,461.9 L367.7,461.7 L369.0,461.3 L370.2,460.8 L371.5,460.0 L372.8,459.1 L374.0,458.0 L375.3,456.7 L376.5,455.2 L377.8,453.5 L379.1,451.6 L380.3,449.4 L381.6,447.0 L382.8,444.3 L384.1,441.4 L385.4,438.2 L386.6,434.7 L387.9,430.9 L389.2,426.8 L390.4,422.4 L391.7,417.7 L392.9,412.6 L394.2,407.2 L395.5,401.4 L396.7,395.2 L398.0,388.6 L399.2,381.5 L400.5,374.1" fill="none" stroke="#60b0ff" stroke-width="0.9" stroke-linejoin="round" clip-path="url(#c2)"/>
<path d="M313.5,380.7 L314.8,383.7 L316.0,386.7 L317.3,389.7 L318.5,392.6 L319.8,395.5 L321.1,398.4 L322.3,401.2 L323.6,404.0 L324.8,406.7 L326.1,409.4 L327.4,412.1 L328.6,414.7 L329.9,417.3 L331.2,419.8 L332.4,422.3 L333.7,424.7 L334.9,427.1 L336.2,429.4 L337.5,431.6 L338.7,433.8 L340.0,435.9 L341.2,438.0 L342.5,439.9 L343.8,441.8 L345.0,443.7 L346.3,445.4 L347.5,447.1 L348.8,448.6 L350.1,450.1 L351.3,451.5 L352.6,452.8 L353.8,454.0 L355.1,455.1 L356.4,456.1 L357.6,456.9 L358.9,457.6 L360.2,458.3 L361.4,458.7 L362.7,459.1 L363.9,459.3 L365.2,459.3 L366.5,459.2 L367.7,459.0 L369.0,458.5 L370.2,457.9 L371.5,457.2 L372.8,456.2 L374.0,455.0 L375.3,453.7 L376.5,452.1 L377.8,450.3 L379.1,448.2 L380.3,446.0 L381.6,443.4 L382.8,440.7 L384.1,437.6 L385.4,434.3 L386.6,430.6 L387.9,426.7 L389.2,422.4 L390.4,417.8 L391.7,412.9 L392.9,407.6 L394.2,401.9 L395.5,395.8 L396.7,389.4 L398.0,382.5 L399.2,375.1 L400.5,367.3" fill="none" stroke="#40e0ff" stroke-width="1.0" stroke-linejoin="round" clip-path="url(#c2)"/>
<path d="M313.5,379.2 L314.8,382.2 L316.0,385.1 L317.3,388.0 L318.5,390.9 L319.8,393.8 L321.1,396.6 L322.3,399.4 L323.6,402.2 L324.8,404.9 L326.1,407.6 L327.4,410.2 L328.6,412.8 L329.9,415.3 L331.2,417.8 L332.4,420.3 L333.7,422.7 L334.9,425.0 L336.2,427.3 L337.5,429.5 L338.7,431.7 L340.0,433.7 L341.2,435.8 L342.5,437.7 L343.8,439.6 L345.0,441.4 L346.3,443.2 L347.5,444.8 L348.8,446.4 L350.1,447.8 L351.3,449.2 L352.6,450.5 L353.8,451.7 L355.1,452.7 L356.4,453.7 L357.6,454.5 L358.9,455.2 L360.2,455.8 L361.4,456.3 L362.7,456.6 L363.9,456.8 L365.2,456.8 L366.5,456.7 L367.7,456.4 L369.0,456.0 L370.2,455.3 L371.5,454.5 L372.8,453.5 L374.0,452.3 L375.3,450.9 L376.5,449.2 L377.8,447.3 L379.1,445.2 L380.3,442.9 L381.6,440.3 L382.8,437.4 L384.1,434.2 L385.4,430.7 L386.6,427.0 L387.9,422.9 L389.2,418.5 L390.4,413.7 L391.7,408.6 L392.9,403.1 L394.2,397.2 L395.5,390.8 L396.7,384.1 L398.0,376.9 L399.2,369.2 L400.5,361.1" fill="none" stroke="#4848ff" stroke-width="1.0" stroke-linejoin="round" clip-path="url(#c2)"/>
<path d="M313.5,377.6 L314.8,380.5 L316.0,383.4 L317.3,386.3 L318.5,389.2 L319.8,392.0 L321.1,394.8 L322.3,397.6 L323.6,400.3 L324.8,403.0 L326.1,405.6 L327.4,408.2 L328.6,410.8 L329.9,413.3 L331.2,415.8 L332.4,418.2 L333.7,420.6 L334.9,422.9 L336.2,425.2 L337.5,427.4 L338.7,429.6 L340.0,431.7 L341.2,433.7 L342.5,435.6 L343.8,437.5 L345.0,439.3 L346.3,441.1 L347.5,442.7 L348.8,444.3 L350.1,445.8 L351.3,447.1 L352.6,448.4 L353.8,449.6 L355.1,450.7 L356.4,451.7 L357.6,452.5 L358.9,453.2 L360.2,453.9 L361.4,454.3 L362.7,454.7 L363.9,454.9 L365.2,454.9 L366.5,454.8 L367.7,454.5 L369.0,454.1 L370.2,453.4 L371.5,452.6 L372.8,451.6 L374.0,450.4 L375.3,448.9 L376.5,447.3 L377.8,445.4 L379.1,443.3 L380.3,440.9 L381.6,438.2 L382.8,435.3 L384.1,432.1 L385.4,428.5 L386.6,424.7 L387.9,420.5 L389.2,416.0 L390.4,411.1 L391.7,405.9 L392.9,400.2 L394.2,394.1 L395.5,387.6 L396.7,380.7 L398.0,373.3 L399.2,365.3 L400.5,356.9" fill="none" stroke="#60d0ff" stroke-width="1.0" stroke-linejoin="round" clip-path="url(#c2)"/>
<path d="M313.5,375.6 L314.8,378.5 L316.0,381.4 L317.3,384.3 L318.5,387.1 L319.8,389.9 L321.1,392.6 L322.3,395.4 L323.6,398.1 L324.8,400.7 L326.1,403.4 L327.4,405.9 L328.6,408.5 L329.9,411.0 L331.2,413.5 L332.4,415.9 L333.7,418.3 L334.9,420.6 L336.2,422.9 L337.5,425.1 L338.7,427.3 L340.0,429.4 L341.2,431.5 L342.5,433.4 L343.8,435.4 L345.0,437.2 L346.3,439.0 L347.5,440.7 L348.8,442.3 L350.1,443.8 L351.3,445.3 L352.6,446.6 L353.8,447.8 L355.1,449.0 L356.4,450.0 L357.6,451.0 L358.9,451.8 L360.2,452.4 L361.4,453.0 L362.7,453.4 L363.9,453.7 L365.2,453.8 L366.5,453.8 L367.7,453.6 L369.0,453.3 L370.2,452.7 L371.5,452.0 L372.8,451.1 L374.0,450.0 L375.3,448.6 L376.5,447.1 L377.8,445.3 L379.1,443.2 L380.3,440.9 L381.6,438.4 L382.8,435.5 L384.1,432.3 L385.4,428.9 L386.6,425.1 L387.9,421.0 L389.2,416.5 L390.4,411.6 L391.7,406.4 L392.9,400.7 L394.2,394.6 L395.5,388.1 L396.7,381.1 L398.0,373.6 L399.2,365.6 L400.5,357.0" fill="none" stroke="#3a7aff" stroke-width="1.0" stroke-linejoin="round" clip-path="url(#c2)"/>
<path d="M313.5,374.5 L314.8,377.4 L316.0,380.3 L317.3,383.1 L318.5,385.9 L319.8,388.7 L321.1,391.4 L322.3,394.1 L323.6,396.8 L324.8,399.5 L326.1,402.1 L327.4,404.7 L328.6,407.3 L329.9,409.8 L331.2,412.3 L332.4,414.7 L333.7,417.1 L334.9,419.4 L336.2,421.7 L337.5,424.0 L338.7,426.2 L340.0,428.3 L341.2,430.4 L342.5,432.4 L343.8,434.4 L345.0,436.3 L346.3,438.1 L347.5,439.8 L348.8,441.5 L350.1,443.1 L351.3,444.6 L352.6,446.0 L353.8,447.3 L355.1,448.5 L356.4,449.6 L357.6,450.6 L358.9,451.5 L360.2,452.3 L361.4,453.0 L362.7,453.5 L363.9,453.8 L365.2,454.1 L366.5,454.2 L367.7,454.1 L369.0,453.8 L370.2,453.4 L371.5,452.8 L372.8,452.0 L374.0,451.0 L375.3,449.8 L376.5,448.4 L377.8,446.7 L379.1,444.8 L380.3,442.6 L381.6,440.2 L382.8,437.5 L384.1,434.5 L385.4,431.2 L386.6,427.5 L387.9,423.5 L389.2,419.2 L390.4,414.5 L391.7,409.4 L392.9,403.8 L394.2,397.9 L395.5,391.5 L396.7,384.6 L398.0,377.2 L399.2,369.3 L400.5,360.8" fill="none" stroke="#1a5cff" stroke-width="2.0" stroke-linejoin="round" clip-path="url(#c2)"/>
<line x1="41.5" y1="440.9" x2="127.5" y2="440.9" stroke="#9a9a9a" stroke-width="1.6" stroke-opacity="0.85"/>
<line x1="174.5" y1="440.9" x2="260.9" y2="440.9" stroke="#9a9a9a" stroke-width="1.6" stroke-opacity="0.85"/>
<path d="M445.5,398.9 L446.7,400.8 L448.0,402.7 L449.2,404.5 L450.5,406.3 L451.7,408.1 L453.0,409.9 L454.2,411.6 L455.5,413.4 L456.7,415.1 L458.0,416.8 L459.2,418.5 L460.5,420.1 L461.7,421.7 L462.9,423.3 L464.2,424.9 L465.4,426.4 L466.7,427.9 L467.9,429.4 L469.2,430.8 L470.4,432.3 L471.7,433.6 L472.9,435.0 L474.2,436.2 L475.4,437.5 L476.7,438.7 L477.9,439.9 L479.2,441.0 L480.4,442.1 L481.6,443.1 L482.9,444.0 L484.1,444.9 L485.4,445.8 L486.6,446.6 L487.9,447.3 L489.1,447.9 L490.4,448.5 L491.6,449.0 L492.9,449.5 L494.1,449.8 L495.4,450.1 L496.6,450.3 L497.8,450.4 L499.1,450.4 L500.3,450.3 L501.6,450.1 L502.8,449.8 L504.1,449.4 L505.3,448.8 L506.6,448.2 L507.8,447.4 L509.1,446.5 L510.3,445.4 L511.6,444.2 L512.8,442.8 L514.1,441.3 L515.3,439.6 L516.5,437.8 L517.8,435.7 L519.0,433.5 L520.3,431.1 L521.5,428.4 L522.8,425.6 L524.0,422.5 L525.3,419.2 L526.5,415.6 L527.8,411.8 L529.0,407.7 L530.3,403.4 L531.5,398.7" fill="none" stroke="#60eaff" stroke-width="0.8" stroke-linejoin="round" clip-path="url(#c3)"/>
<path d="M445.5,397.7 L446.7,399.6 L448.0,401.5 L449.2,403.3 L450.5,405.1 L451.7,406.9 L453.0,408.7 L454.2,410.4 L455.5,412.2 L456.7,413.9 L458.0,415.6 L459.2,417.3 L460.5,418.9 L461.7,420.5 L462.9,422.1 L464.2,423.7 L465.4,425.2 L466.7,426.7 L467.9,428.2 L469.2,429.6 L470.4,431.1 L471.7,432.4 L472.9,433.8 L474.2,435.0 L475.4,436.3 L476.7,437.5 L477.9,438.7 L479.2,439.8 L480.4,440.9 L481.6,441.9 L482.9,442.8 L484.1,443.7 L485.4,444.6 L486.6,445.4 L487.9,446.1 L489.1,446.7 L490.4,447.3 L491.6,447.8 L492.9,448.3 L494.1,448.6 L495.4,448.9 L496.6,449.1 L497.8,449.2 L499.1,449.2 L500.3,449.1 L501.6,448.9 L502.8,448.6 L504.1,448.2 L505.3,447.6 L506.6,447.0 L507.8,446.2 L509.1,445.3 L510.3,444.2 L511.6,443.0 L512.8,441.6 L514.1,440.1 L515.3,438.4 L516.5,436.6 L517.8,434.5 L519.0,432.3 L520.3,429.9 L521.5,427.2 L522.8,424.4 L524.0,421.3 L525.3,418.0 L526.5,414.4 L527.8,410.6 L529.0,406.5 L530.3,402.2 L531.5,397.5" fill="none" stroke="#40e0ff" stroke-width="0.8" stroke-linejoin="round" clip-path="url(#c3)"/>
<path d="M445.5,396.5 L446.7,398.4 L448.0,400.3 L449.2,402.1 L450.5,403.9 L451.7,405.7 L453.0,407.5 L454.2,409.2 L455.5,411.0 L456.7,412.7 L458.0,414.4 L459.2,416.1 L460.5,417.7 L461.7,419.3 L462.9,420.9 L464.2,422.5 L465.4,424.0 L466.7,425.5 L467.9,427.0 L469.2,428.4 L470.4,429.9 L471.7,431.2 L472.9,432.6 L474.2,433.8 L475.4,435.1 L476.7,436.3 L477.9,437.5 L479.2,438.6 L480.4,439.7 L481.6,440.7 L482.9,441.6 L484.1,442.5 L485.4,443.4 L486.6,444.2 L487.9,444.9 L489.1,445.5 L490.4,446.1 L491.6,446.6 L492.9,447.1 L494.1,447.4 L495.4,447.7 L496.6,447.9 L497.8,448.0 L499.1,448.0 L500.3,447.9 L501.6,447.7 L502.8,447.4 L504.1,447.0 L505.3,446.4 L506.6,445.8 L507.8,445.0 L509.1,444.1 L510.3,443.0 L511.6,441.8 L512.8,440.4 L514.1,438.9 L515.3,437.2 L516.5,435.4 L517.8,433.3 L519.0,431.1 L520.3,428.7 L521.5,426.0 L522.8,423.2 L524.0,420.1 L525.3,416.8 L526.5,413.2 L527.8,409.4 L529.0,405.3 L530.3,401.0 L531.5,396.3" fill="none" stroke="#30d0ff" stroke-width="0.8" stroke-linejoin="round" clip-path="url(#c3)"/>
<path d="M445.5,394.0 L446.7,395.9 L448.0,397.8 L449.2,399.6 L450.5,401.4 L451.7,403.2 L453.0,405.0 L454.2,406.7 L455.5,408.5 L456.7,410.2 L458.0,411.9 L459.2,413.6 L460.5,415.2 L461.7,416.8 L462.9,418.4 L464.2,420.0 L465.4,421.5 L466.7,423.0 L467.9,424.5 L469.2,425.9 L470.4,427.4 L471.7,428.7 L472.9,430.1 L474.2,431.3 L475.4,432.6 L476.7,433.8 L477.9,435.0 L479.2,436.1 L480.4,437.2 L481.6,438.2 L482.9,439.1 L484.1,440.0 L485.4,440.9 L486.6,441.7 L487.9,442.4 L489.1,443.0 L490.4,443.6 L491.6,444.1 L492.9,444.6 L494.1,444.9 L495.4,445.2 L496.6,445.4 L497.8,445.5 L499.1,445.5 L500.3,445.4 L501.6,445.2 L502.8,444.9 L504.1,444.5 L505.3,443.9 L506.6,443.3 L507.8,442.5 L509.1,441.6 L510.3,440.5 L511.6,439.3 L512.8,437.9 L514.1,436.4 L515.3,434.7 L516.5,432.9 L517.8,430.8 L519.0,428.6 L520.3,426.2 L521.5,423.5 L522.8,420.7 L524.0,417.6 L525.3,414.3 L526.5,410.7 L527.8,406.9 L529.0,402.8 L530.3,398.5 L531.5,393.8" fill="none" stroke="#e04020" stroke-width="1.1" stroke-linejoin="round" clip-path="url(#c3)"/>
<path d="M445.5,391.6 L446.7,393.5 L448.0,395.4 L449.2,397.2 L450.5,399.0 L451.7,400.8 L453.0,402.6 L454.2,404.3 L455.5,406.1 L456.7,407.8 L458.0,409.5 L459.2,411.2 L460.5,412.8 L461.7,414.4 L462.9,416.0 L464.2,417.6 L465.4,419.1 L466.7,420.6 L467.9,422.1 L469.2,423.5 L470.4,425.0 L471.7,426.3 L472.9,427.7 L474.2,428.9 L475.4,430.2 L476.7,431.4 L477.9,432.6 L479.2,433.7 L480.4,434.8 L481.6,435.8 L482.9,436.7 L484.1,437.6 L485.4,438.5 L486.6,439.3 L487.9,440.0 L489.1,440.6 L490.4,441.2 L491.6,441.7 L492.9,442.2 L494.1,442.5 L495.4,442.8 L496.6,443.0 L497.8,443.1 L499.1,443.1 L500.3,443.0 L501.6,442.8 L502.8,442.5 L504.1,442.1 L505.3,441.5 L506.6,440.9 L507.8,440.1 L509.1,439.2 L510.3,438.1 L511.6,436.9 L512.8,435.5 L514.1,434.0 L515.3,432.3 L516.5,430.5 L517.8,428.4 L519.0,426.2 L520.3,423.8 L521.5,421.1 L522.8,418.3 L524.0,415.2 L525.3,411.9 L526.5,408.3 L527.8,404.5 L529.0,400.4 L530.3,396.1 L531.5,391.4" fill="none" stroke="#3399ff" stroke-width="1.0" stroke-linejoin="round" clip-path="url(#c3)"/>
<path d="M445.5,382.2 L446.7,384.1 L448.0,386.0 L449.2,387.8 L450.5,389.6 L451.7,391.4 L453.0,393.2 L454.2,394.9 L455.5,396.7 L456.7,398.4 L458.0,400.1 L459.2,401.8 L460.5,403.4 L461.7,405.0 L462.9,406.6 L464.2,408.2 L465.4,409.7 L466.7,411.2 L467.9,412.7 L469.2,414.1 L470.4,415.6 L471.7,416.9 L472.9,418.3 L474.2,419.5 L475.4,420.8 L476.7,422.0 L477.9,423.2 L479.2,424.3 L480.4,425.4 L481.6,426.4 L482.9,427.3 L484.1,428.2 L485.4,429.1 L486.6,429.9 L487.9,430.6 L489.1,431.2 L490.4,431.8 L491.6,432.3 L492.9,432.8 L494.1,433.1 L495.4,433.4 L496.6,433.6 L497.8,433.7 L499.1,433.7 L500.3,433.6 L501.6,433.4 L502.8,433.1 L504.1,432.7 L505.3,432.1 L506.6,431.5 L507.8,430.7 L509.1,429.8 L510.3,428.7 L511.6,427.5 L512.8,426.1 L514.1,424.6 L515.3,422.9 L516.5,421.1 L517.8,419.0 L519.0,416.8 L520.3,414.4 L521.5,411.7 L522.8,408.9 L524.0,405.8 L525.3,402.5 L526.5,398.9 L527.8,395.1 L529.0,391.0 L530.3,386.7 L531.5,382.0" fill="none" stroke="#3a8aff" stroke-width="1.0" stroke-linejoin="round" clip-path="url(#c3)"/>
<path d="M445.5,378.6 L446.7,380.5 L448.0,382.4 L449.2,384.2 L450.5,386.0 L451.7,387.8 L453.0,389.6 L454.2,391.3 L455.5,393.1 L456.7,394.8 L458.0,396.5 L459.2,398.2 L460.5,399.8 L461.7,401.4 L462.9,403.0 L464.2,404.6 L465.4,406.1 L466.7,407.6 L467.9,409.1 L469.2,410.5 L470.4,412.0 L471.7,413.3 L472.9,414.7 L474.2,415.9 L475.4,417.2 L476.7,418.4 L477.9,419.6 L479.2,420.7 L480.4,421.8 L481.6,422.8 L482.9,423.7 L484.1,424.6 L485.4,425.5 L486.6,426.3 L487.9,427.0 L489.1,427.6 L490.4,428.2 L491.6,428.7 L492.9,429.2 L494.1,429.5 L495.4,429.8 L496.6,430.0 L497.8,430.1 L499.1,430.1 L500.3,430.0 L501.6,429.8 L502.8,429.5 L504.1,429.1 L505.3,428.5 L506.6,427.9 L507.8,427.1 L509.1,426.2 L510.3,425.1 L511.6,423.9 L512.8,422.5 L514.1,421.0 L515.3,419.3 L516.5,417.5 L517.8,415.4 L519.0,413.2 L520.3,410.8 L521.5,408.1 L522.8,405.3 L524.0,402.2 L525.3,398.9 L526.5,395.3 L527.8,391.5 L529.0,387.4 L530.3,383.1 L531.5,378.4" fill="none" stroke="#333333" stroke-width="1.1" stroke-linejoin="round" clip-path="url(#c3)"/>
<path d="M445.5,374.9 L446.7,376.8 L448.0,378.7 L449.2,380.5 L450.5,382.3 L451.7,384.1 L453.0,385.9 L454.2,387.6 L455.5,389.4 L456.7,391.1 L458.0,392.8 L459.2,394.5 L460.5,396.1 L461.7,397.7 L462.9,399.3 L464.2,400.9 L465.4,402.4 L466.7,403.9 L467.9,405.4 L469.2,406.8 L470.4,408.3 L471.7,409.6 L472.9,411.0 L474.2,412.2 L475.4,413.5 L476.7,414.7 L477.9,415.9 L479.2,417.0 L480.4,418.1 L481.6,419.1 L482.9,420.0 L484.1,420.9 L485.4,421.8 L486.6,422.6 L487.9,423.3 L489.1,423.9 L490.4,424.5 L491.6,425.0 L492.9,425.5 L494.1,425.8 L495.4,426.1 L496.6,426.3 L497.8,426.4 L499.1,426.4 L500.3,426.3 L501.6,426.1 L502.8,425.7 L504.1,425.3 L505.3,424.7 L506.6,424.0 L507.8,423.1 L509.1,422.1 L510.3,421.0 L511.6,419.7 L512.8,418.2 L514.1,416.6 L515.3,414.7 L516.5,412.7 L517.8,410.5 L519.0,408.2 L520.3,405.6 L521.5,402.7 L522.8,399.7 L524.0,396.4 L525.3,392.9 L526.5,389.1 L527.8,385.1 L529.0,380.8 L530.3,376.1 L531.5,371.2" fill="none" stroke="#1010e0" stroke-width="1.2" stroke-linejoin="round" clip-path="url(#c3)"/>
<path d="M445.5,373.7 L446.7,375.6 L448.0,377.5 L449.2,379.3 L450.5,381.1 L451.7,382.9 L453.0,384.7 L454.2,386.4 L455.5,388.2 L456.7,389.9 L458.0,391.6 L459.2,393.3 L460.5,394.9 L461.7,396.5 L462.9,398.1 L464.2,399.7 L465.4,401.2 L466.7,402.7 L467.9,404.2 L469.2,405.6 L470.4,407.1 L471.7,408.4 L472.9,409.8 L474.2,411.0 L475.4,412.3 L476.7,413.5 L477.9,414.7 L479.2,415.8 L480.4,416.9 L481.6,417.9 L482.9,418.8 L484.1,419.7 L485.4,420.6 L486.6,421.4 L487.9,422.1 L489.1,422.7 L490.4,423.3 L491.6,423.8 L492.9,424.3 L494.1,424.6 L495.4,424.9 L496.6,425.1 L497.8,425.2 L499.1,425.2 L500.3,425.1 L501.6,424.9 L502.8,424.5 L504.1,424.1 L505.3,423.5 L506.6,422.8 L507.8,421.9 L509.1,420.9 L510.3,419.8 L511.6,418.5 L512.8,417.0 L514.1,415.4 L515.3,413.5 L516.5,411.5 L517.8,409.3 L519.0,407.0 L520.3,404.4 L521.5,401.5 L522.8,398.5 L524.0,395.2 L525.3,391.7 L526.5,387.9 L527.8,383.9 L529.0,379.6 L530.3,374.9 L531.5,370.0" fill="none" stroke="#2030ff" stroke-width="1.0" stroke-linejoin="round" clip-path="url(#c3)"/>
<path d="M445.5,372.5 L446.7,374.4 L448.0,376.3 L449.2,378.1 L450.5,379.9 L451.7,381.7 L453.0,383.5 L454.2,385.2 L455.5,387.0 L456.7,388.7 L458.0,390.4 L459.2,392.1 L460.5,393.7 L461.7,395.3 L462.9,396.9 L464.2,398.5 L465.4,400.0 L466.7,401.5 L467.9,403.0 L469.2,404.4 L470.4,405.9 L471.7,407.2 L472.9,408.6 L474.2,409.8 L475.4,411.1 L476.7,412.3 L477.9,413.5 L479.2,414.6 L480.4,415.7 L481.6,416.7 L482.9,417.6 L484.1,418.5 L485.4,419.4 L486.6,420.2 L487.9,420.9 L489.1,421.5 L490.4,422.1 L491.6,422.6 L492.9,423.1 L494.1,423.4 L495.4,423.7 L496.6,423.9 L497.8,424.0 L499.1,424.0 L500.3,423.9 L501.6,423.7 L502.8,423.3 L504.1,422.9 L505.3,422.3 L506.6,421.6 L507.8,420.7 L509.1,419.7 L510.3,418.6 L511.6,417.3 L512.8,415.8 L514.1,414.2 L515.3,412.3 L516.5,410.3 L517.8,408.1 L519.0,405.8 L520.3,403.2 L521.5,400.3 L522.8,397.3 L524.0,394.0 L525.3,390.5 L526.5,386.7 L527.8,382.7 L529.0,378.4 L530.3,373.7 L531.5,368.8" fill="none" stroke="#1a1aff" stroke-width="1.0" stroke-linejoin="round" clip-path="url(#c3)"/>
<line x1="445.5" y1="446.4" x2="531.5" y2="446.4" stroke="#505050" stroke-width="1"/>
<defs><linearGradient id="jet" x1="0" y1="1" x2="0" y2="0"><stop offset="0.000" stop-color="#000080"/><stop offset="0.062" stop-color="#0000bf"/><stop offset="0.125" stop-color="#0000ff"/><stop offset="0.188" stop-color="#0040ff"/><stop offset="0.250" stop-color="#0080ff"/><stop offset="0.312" stop-color="#00bfff"/><stop offset="0.375" stop-color="#00ffff"/><stop offset="0.438" stop-color="#40ffbf"/><stop offset="0.500" stop-color="#80ff80"/><stop offset="0.562" stop-color="#bfff40"/><stop offset="0.625" stop-color="#ffff00"/><stop offset="0.688" stop-color="#ffbf00"/><stop offset="0.750" stop-color="#ff8000"/><stop offset="0.812" stop-color="#ff4000"/><stop offset="0.875" stop-color="#ff0000"/><stop offset="0.938" stop-color="#bf0000"/><stop offset="1.000" stop-color="#800000"/></linearGradient></defs>
<rect x="547.4" y="360.9" width="7.8" height="103.7" fill="url(#jet)"/>
<text x="556.00" y="352.80" font-size="10.5" text-anchor="middle" font-weight="normal" fill="#000" >Time (s)</text>
<text x="559.80" y="365.00" font-size="10.6" text-anchor="start" font-weight="normal" fill="#000" >20</text>
<text x="559.60" y="415.90" font-size="10.6" text-anchor="start" font-weight="normal" fill="#000" >10</text>
<text x="561.50" y="467.30" font-size="10.6" text-anchor="start" font-weight="normal" fill="#000" >0</text>
<text x="514.00" y="488.00" font-size="10.5" text-anchor="start" font-weight="normal" fill="#000" >V (mV)</text>
<text transform="translate(13.1,107.3) rotate(-90)" font-size="10.7" text-anchor="middle">V (mv)</text>
<text transform="translate(7.9,262.8) rotate(-90)" font-size="10.6" text-anchor="middle">Normalized</text>
<text transform="translate(17.9,263.5) rotate(-90)" font-size="10.6" text-anchor="middle">Pump Current</text>
<text transform="translate(15.3,416.5) rotate(-90)" font-size="10.8" text-anchor="middle">dV/dt (V/s)</text>
</svg></body></html>
